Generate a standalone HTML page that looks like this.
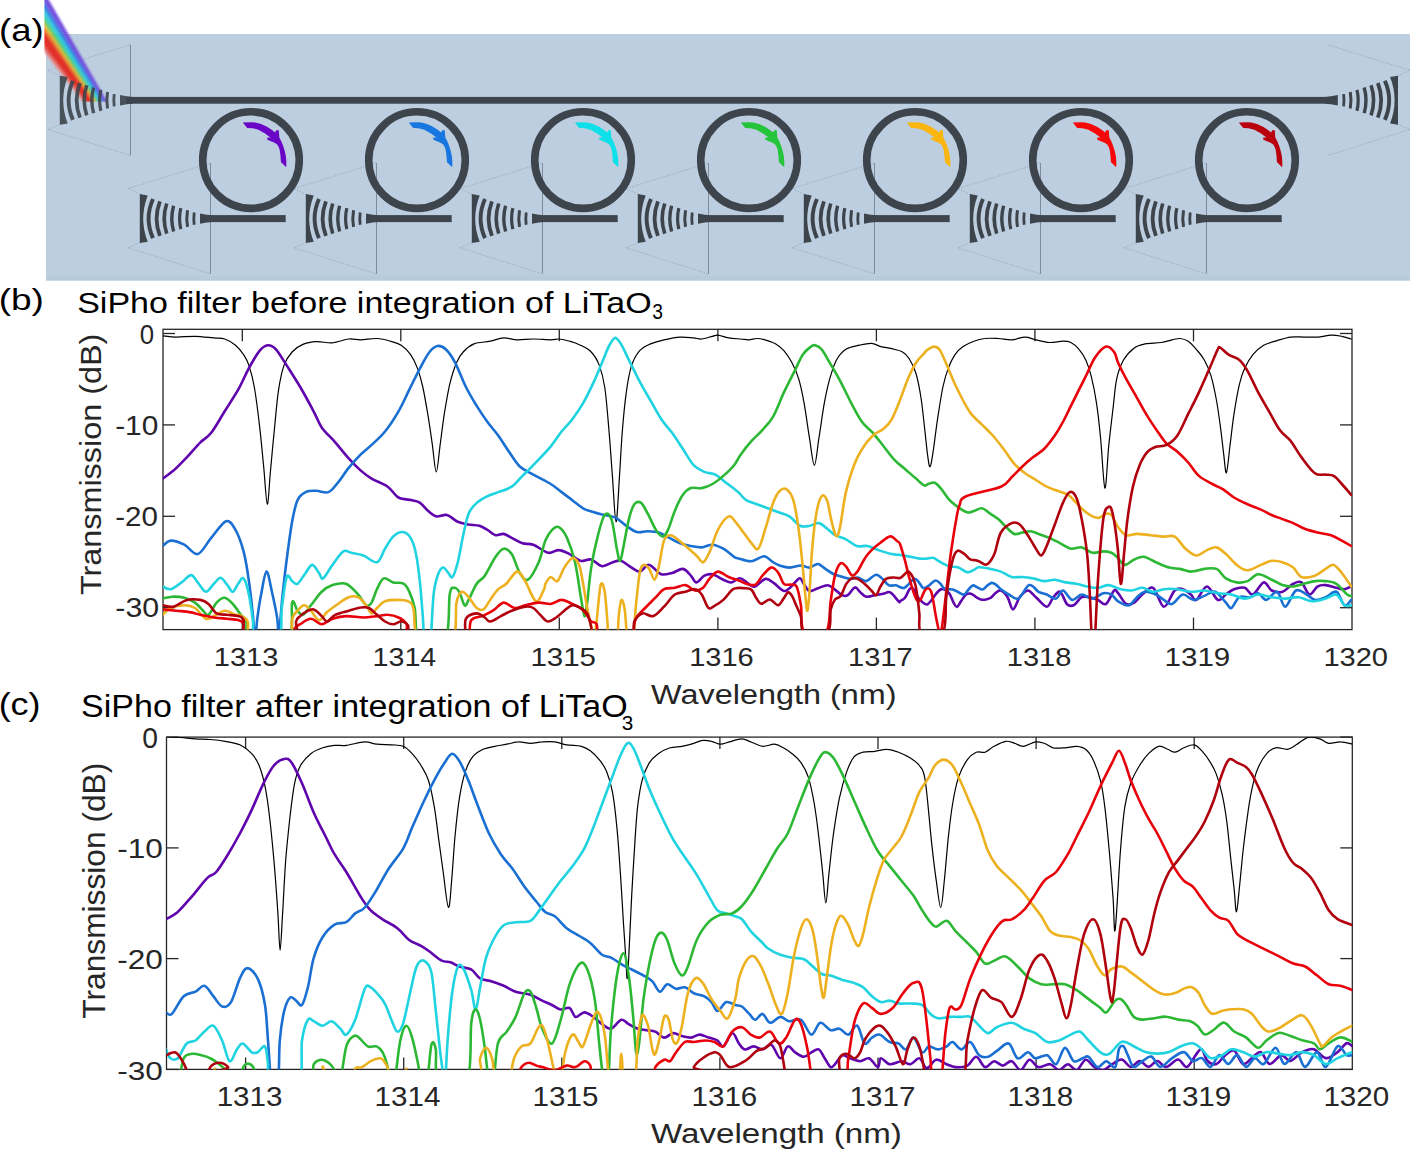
<!DOCTYPE html>
<html><head><meta charset="utf-8"><style>
html,body{margin:0;padding:0;background:#fff;}
svg{display:block;}
</style></head><body>
<svg width="1410" height="1150" viewBox="0 0 1410 1150">
<rect width="1410" height="1150" fill="#fff"/>
<rect x="46" y="34" width="1364" height="246.5" fill="#bccedf"/>
<rect x="46" y="275.5" width="1364" height="5" fill="#b8cbdd"/>
<path d="M48.2,70.3 L130.0,44.8" fill="none" stroke="#8898a8" stroke-width="0.6" stroke-dasharray="1.6,1.4"/>
<path d="M48.2,70.3 L60.2,76.1" fill="none" stroke="#8898a8" stroke-width="0.6" stroke-dasharray="1.6,1.4"/>
<path d="M48.2,129.5 L130.0,155.5" fill="none" stroke="#8898a8" stroke-width="0.6" stroke-dasharray="1.6,1.4"/>
<path d="M48.2,129.5 L60.2,124.3" fill="none" stroke="#8898a8" stroke-width="0.6" stroke-dasharray="1.6,1.4"/>
<path d="M130.5,44.8 L130.5,155.5" fill="none" stroke="#7e8c99" stroke-width="1"/>
<path d="M1409.6,70.3 L1327.8,44.8" fill="none" stroke="#8898a8" stroke-width="0.6" stroke-dasharray="1.6,1.4"/>
<path d="M1409.6,70.3 L1397.6,76.1" fill="none" stroke="#8898a8" stroke-width="0.6" stroke-dasharray="1.6,1.4"/>
<path d="M1409.6,129.5 L1327.8,155.5" fill="none" stroke="#8898a8" stroke-width="0.6" stroke-dasharray="1.6,1.4"/>
<path d="M1409.6,129.5 L1397.6,124.3" fill="none" stroke="#8898a8" stroke-width="0.6" stroke-dasharray="1.6,1.4"/>
<path d="M128.2,188.6 L210.0,163.1" fill="none" stroke="#8898a8" stroke-width="0.6" stroke-dasharray="1.6,1.4"/>
<path d="M128.2,188.6 L140.2,194.4" fill="none" stroke="#8898a8" stroke-width="0.6" stroke-dasharray="1.6,1.4"/>
<path d="M128.2,247.8 L210.0,273.8" fill="none" stroke="#8898a8" stroke-width="0.6" stroke-dasharray="1.6,1.4"/>
<path d="M128.2,247.8 L140.2,242.6" fill="none" stroke="#8898a8" stroke-width="0.6" stroke-dasharray="1.6,1.4"/>
<path d="M210.5,163.1 L210.5,273.8" fill="none" stroke="#7e8c99" stroke-width="1"/>
<path d="M294.2,188.6 L376.0,163.1" fill="none" stroke="#8898a8" stroke-width="0.6" stroke-dasharray="1.6,1.4"/>
<path d="M294.2,188.6 L306.2,194.4" fill="none" stroke="#8898a8" stroke-width="0.6" stroke-dasharray="1.6,1.4"/>
<path d="M294.2,247.8 L376.0,273.8" fill="none" stroke="#8898a8" stroke-width="0.6" stroke-dasharray="1.6,1.4"/>
<path d="M294.2,247.8 L306.2,242.6" fill="none" stroke="#8898a8" stroke-width="0.6" stroke-dasharray="1.6,1.4"/>
<path d="M376.5,163.1 L376.5,273.8" fill="none" stroke="#7e8c99" stroke-width="1"/>
<path d="M460.2,188.6 L542.0,163.1" fill="none" stroke="#8898a8" stroke-width="0.6" stroke-dasharray="1.6,1.4"/>
<path d="M460.2,188.6 L472.2,194.4" fill="none" stroke="#8898a8" stroke-width="0.6" stroke-dasharray="1.6,1.4"/>
<path d="M460.2,247.8 L542.0,273.8" fill="none" stroke="#8898a8" stroke-width="0.6" stroke-dasharray="1.6,1.4"/>
<path d="M460.2,247.8 L472.2,242.6" fill="none" stroke="#8898a8" stroke-width="0.6" stroke-dasharray="1.6,1.4"/>
<path d="M542.5,163.1 L542.5,273.8" fill="none" stroke="#7e8c99" stroke-width="1"/>
<path d="M626.2,188.6 L708.0,163.1" fill="none" stroke="#8898a8" stroke-width="0.6" stroke-dasharray="1.6,1.4"/>
<path d="M626.2,188.6 L638.2,194.4" fill="none" stroke="#8898a8" stroke-width="0.6" stroke-dasharray="1.6,1.4"/>
<path d="M626.2,247.8 L708.0,273.8" fill="none" stroke="#8898a8" stroke-width="0.6" stroke-dasharray="1.6,1.4"/>
<path d="M626.2,247.8 L638.2,242.6" fill="none" stroke="#8898a8" stroke-width="0.6" stroke-dasharray="1.6,1.4"/>
<path d="M708.5,163.1 L708.5,273.8" fill="none" stroke="#7e8c99" stroke-width="1"/>
<path d="M792.2,188.6 L874.0,163.1" fill="none" stroke="#8898a8" stroke-width="0.6" stroke-dasharray="1.6,1.4"/>
<path d="M792.2,188.6 L804.2,194.4" fill="none" stroke="#8898a8" stroke-width="0.6" stroke-dasharray="1.6,1.4"/>
<path d="M792.2,247.8 L874.0,273.8" fill="none" stroke="#8898a8" stroke-width="0.6" stroke-dasharray="1.6,1.4"/>
<path d="M792.2,247.8 L804.2,242.6" fill="none" stroke="#8898a8" stroke-width="0.6" stroke-dasharray="1.6,1.4"/>
<path d="M874.5,163.1 L874.5,273.8" fill="none" stroke="#7e8c99" stroke-width="1"/>
<path d="M958.2,188.6 L1040.0,163.1" fill="none" stroke="#8898a8" stroke-width="0.6" stroke-dasharray="1.6,1.4"/>
<path d="M958.2,188.6 L970.2,194.4" fill="none" stroke="#8898a8" stroke-width="0.6" stroke-dasharray="1.6,1.4"/>
<path d="M958.2,247.8 L1040.0,273.8" fill="none" stroke="#8898a8" stroke-width="0.6" stroke-dasharray="1.6,1.4"/>
<path d="M958.2,247.8 L970.2,242.6" fill="none" stroke="#8898a8" stroke-width="0.6" stroke-dasharray="1.6,1.4"/>
<path d="M1040.5,163.1 L1040.5,273.8" fill="none" stroke="#7e8c99" stroke-width="1"/>
<path d="M1124.2,188.6 L1206.0,163.1" fill="none" stroke="#8898a8" stroke-width="0.6" stroke-dasharray="1.6,1.4"/>
<path d="M1124.2,188.6 L1136.2,194.4" fill="none" stroke="#8898a8" stroke-width="0.6" stroke-dasharray="1.6,1.4"/>
<path d="M1124.2,247.8 L1206.0,273.8" fill="none" stroke="#8898a8" stroke-width="0.6" stroke-dasharray="1.6,1.4"/>
<path d="M1124.2,247.8 L1136.2,242.6" fill="none" stroke="#8898a8" stroke-width="0.6" stroke-dasharray="1.6,1.4"/>
<path d="M1206.5,163.1 L1206.5,273.8" fill="none" stroke="#7e8c99" stroke-width="1"/>
<defs><clipPath id="beamclip"><rect x="44.4" y="0" width="80" height="101.9"/></clipPath><filter id="bblur" x="-20%" y="-20%" width="140%" height="140%"><feGaussianBlur stdDeviation="0.9"/></filter></defs>
<g clip-path="url(#beamclip)"><g filter="url(#bblur)" opacity="0.97"><polygon points="0.19,-5.00 3.65,-5.00 84.75,101.90 82.90,101.90" fill="#eb8a85"/><polygon points="3.65,-5.00 7.11,-5.00 86.59,101.90 84.75,101.90" fill="#e5504a"/><polygon points="7.11,-5.00 18.78,-5.00 92.81,101.90 86.59,101.90" fill="#e42a22"/><polygon points="18.78,-5.00 22.67,-5.00 94.88,101.90 92.81,101.90" fill="#ef6a1f"/><polygon points="22.67,-5.00 25.70,-5.00 96.50,101.90 94.88,101.90" fill="#d8bd30"/><polygon points="25.70,-5.00 29.16,-5.00 98.34,101.90 96.50,101.90" fill="#5cc64c"/><polygon points="29.16,-5.00 32.19,-5.00 99.95,101.90 98.34,101.90" fill="#2ccfae"/><polygon points="32.19,-5.00 35.65,-5.00 101.80,101.90 99.95,101.90" fill="#27c4e2"/><polygon points="35.65,-5.00 39.97,-5.00 104.10,101.90 101.80,101.90" fill="#2f78e2"/><polygon points="39.97,-5.00 46.02,-5.00 107.33,101.90 104.10,101.90" fill="#7048de"/></g></g>
<rect x="126" y="96.9" width="1206" height="6.8" fill="#3d444c"/>
<g opacity="0.9"><path d="M59.8,75.8 L67.7,77.1 Q58.7,100.3 67.7,123.5 L59.8,124.8 Z" fill="#3d444c"/>
<path d="M72.96,80.75 Q64.24,100.30 72.96,119.85" fill="none" stroke="#3d444c" stroke-width="3.9"/>
<path d="M79.96,83.03 Q73.24,100.30 79.96,117.57" fill="none" stroke="#3d444c" stroke-width="3.8"/>
<path d="M86.74,85.24 Q81.66,100.30 86.74,115.36" fill="none" stroke="#3d444c" stroke-width="3.6"/>
<path d="M93.62,87.48 Q89.98,100.30 93.62,113.12" fill="none" stroke="#3d444c" stroke-width="3.4"/>
<path d="M100.81,89.82 Q98.39,100.30 100.81,110.78" fill="none" stroke="#3d444c" stroke-width="3.2"/>
<path d="M107.55,92.01 Q106.05,100.30 107.55,108.59" fill="none" stroke="#3d444c" stroke-width="3.0"/>
<path d="M114.21,94.18 Q113.39,100.30 114.21,106.42" fill="none" stroke="#3d444c" stroke-width="2.8"/>
<path d="M120.0,95.1 Q127.0,96.7 133.0,96.9 L133.0,103.7 Q127.0,103.9 120.0,105.5 Z" fill="#3d444c"/></g>
<path d="M1398.0,75.8 L1390.1,77.1 Q1399.1,100.3 1390.1,123.5 L1398.0,124.8 Z" fill="#3d444c"/>
<path d="M1384.84,80.75 Q1393.56,100.30 1384.84,119.85" fill="none" stroke="#3d444c" stroke-width="3.9"/>
<path d="M1377.84,83.03 Q1384.56,100.30 1377.84,117.57" fill="none" stroke="#3d444c" stroke-width="3.8"/>
<path d="M1371.06,85.24 Q1376.14,100.30 1371.06,115.36" fill="none" stroke="#3d444c" stroke-width="3.6"/>
<path d="M1364.18,87.48 Q1367.82,100.30 1364.18,113.12" fill="none" stroke="#3d444c" stroke-width="3.4"/>
<path d="M1356.99,89.82 Q1359.41,100.30 1356.99,110.78" fill="none" stroke="#3d444c" stroke-width="3.2"/>
<path d="M1350.25,92.01 Q1351.75,100.30 1350.25,108.59" fill="none" stroke="#3d444c" stroke-width="3.0"/>
<path d="M1343.59,94.18 Q1344.41,100.30 1343.59,106.42" fill="none" stroke="#3d444c" stroke-width="2.8"/>
<path d="M1337.8,95.1 Q1330.8,96.7 1324.8,96.9 L1324.8,103.7 Q1330.8,103.9 1337.8,105.5 Z" fill="#3d444c"/>
<circle cx="251" cy="160.1" r="48.3" fill="none" stroke="#3d444c" stroke-width="7.6"/>
<rect x="212.0" y="215.1" width="73.7" height="7" fill="#3d444c"/>
<path d="M139.8,194.1 L147.7,195.4 Q138.7,218.6 147.7,241.8 L139.8,243.1 Z" fill="#3d444c"/>
<path d="M152.96,199.05 Q144.24,218.60 152.96,238.15" fill="none" stroke="#3d444c" stroke-width="3.9"/>
<path d="M159.96,201.33 Q153.24,218.60 159.96,235.87" fill="none" stroke="#3d444c" stroke-width="3.8"/>
<path d="M166.74,203.54 Q161.66,218.60 166.74,233.66" fill="none" stroke="#3d444c" stroke-width="3.6"/>
<path d="M173.62,205.78 Q169.98,218.60 173.62,231.42" fill="none" stroke="#3d444c" stroke-width="3.4"/>
<path d="M180.81,208.12 Q178.39,218.60 180.81,229.08" fill="none" stroke="#3d444c" stroke-width="3.2"/>
<path d="M187.55,210.31 Q186.05,218.60 187.55,226.89" fill="none" stroke="#3d444c" stroke-width="3.0"/>
<path d="M194.21,212.48 Q193.39,218.60 194.21,224.72" fill="none" stroke="#3d444c" stroke-width="2.8"/>
<path d="M200.0,213.4 Q207.0,215.0 213.0,215.2 L213.0,222.0 Q207.0,222.2 200.0,223.8 Z" fill="#3d444c"/>
<polygon points="242.8,122.4 251.0,122.2 255.3,122.4 261.0,123.9 267.0,126.7 272.0,130.1 275.1,132.4 276.2,130.3 278.8,130.3 279.3,137.6 281.4,141.5 283.0,145.4 284.6,150.5 285.8,155.8 286.3,161.1 286.3,166.8 285.6,166.8 280.9,162.1 280.5,156.1 279.8,150.6 278.8,147.3 277.2,144.4 274.6,142.8 267.3,139.7 267.3,137.4 270.5,137.4 265.0,133.5 258.4,129.7 252.5,128.2 247.2,127.9" fill="#6a06c6"/>
<circle cx="417" cy="160.1" r="48.3" fill="none" stroke="#3d444c" stroke-width="7.6"/>
<rect x="378.0" y="215.1" width="73.7" height="7" fill="#3d444c"/>
<path d="M305.8,194.1 L313.7,195.4 Q304.7,218.6 313.7,241.8 L305.8,243.1 Z" fill="#3d444c"/>
<path d="M318.96,199.05 Q310.24,218.60 318.96,238.15" fill="none" stroke="#3d444c" stroke-width="3.9"/>
<path d="M325.96,201.33 Q319.24,218.60 325.96,235.87" fill="none" stroke="#3d444c" stroke-width="3.8"/>
<path d="M332.74,203.54 Q327.66,218.60 332.74,233.66" fill="none" stroke="#3d444c" stroke-width="3.6"/>
<path d="M339.62,205.78 Q335.98,218.60 339.62,231.42" fill="none" stroke="#3d444c" stroke-width="3.4"/>
<path d="M346.81,208.12 Q344.39,218.60 346.81,229.08" fill="none" stroke="#3d444c" stroke-width="3.2"/>
<path d="M353.55,210.31 Q352.05,218.60 353.55,226.89" fill="none" stroke="#3d444c" stroke-width="3.0"/>
<path d="M360.21,212.48 Q359.39,218.60 360.21,224.72" fill="none" stroke="#3d444c" stroke-width="2.8"/>
<path d="M366.0,213.4 Q373.0,215.0 379.0,215.2 L379.0,222.0 Q373.0,222.2 366.0,223.8 Z" fill="#3d444c"/>
<polygon points="408.8,122.4 417.0,122.2 421.3,122.4 427.0,123.9 433.0,126.7 438.0,130.1 441.1,132.4 442.2,130.3 444.8,130.3 445.3,137.6 447.4,141.5 449.0,145.4 450.6,150.5 451.8,155.8 452.3,161.1 452.3,166.8 451.6,166.8 446.9,162.1 446.5,156.1 445.8,150.6 444.8,147.3 443.2,144.4 440.6,142.8 433.3,139.7 433.3,137.4 436.5,137.4 431.0,133.5 424.4,129.7 418.5,128.2 413.2,127.9" fill="#1776e0"/>
<circle cx="583" cy="160.1" r="48.3" fill="none" stroke="#3d444c" stroke-width="7.6"/>
<rect x="544.0" y="215.1" width="73.7" height="7" fill="#3d444c"/>
<path d="M471.8,194.1 L479.7,195.4 Q470.7,218.6 479.7,241.8 L471.8,243.1 Z" fill="#3d444c"/>
<path d="M484.96,199.05 Q476.24,218.60 484.96,238.15" fill="none" stroke="#3d444c" stroke-width="3.9"/>
<path d="M491.96,201.33 Q485.24,218.60 491.96,235.87" fill="none" stroke="#3d444c" stroke-width="3.8"/>
<path d="M498.74,203.54 Q493.66,218.60 498.74,233.66" fill="none" stroke="#3d444c" stroke-width="3.6"/>
<path d="M505.62,205.78 Q501.98,218.60 505.62,231.42" fill="none" stroke="#3d444c" stroke-width="3.4"/>
<path d="M512.81,208.12 Q510.39,218.60 512.81,229.08" fill="none" stroke="#3d444c" stroke-width="3.2"/>
<path d="M519.55,210.31 Q518.05,218.60 519.55,226.89" fill="none" stroke="#3d444c" stroke-width="3.0"/>
<path d="M526.21,212.48 Q525.39,218.60 526.21,224.72" fill="none" stroke="#3d444c" stroke-width="2.8"/>
<path d="M532.0,213.4 Q539.0,215.0 545.0,215.2 L545.0,222.0 Q539.0,222.2 532.0,223.8 Z" fill="#3d444c"/>
<polygon points="574.8,122.4 583.0,122.2 587.3,122.4 593.0,123.9 599.0,126.7 604.0,130.1 607.1,132.4 608.2,130.3 610.8,130.3 611.3,137.6 613.4,141.5 615.0,145.4 616.6,150.5 617.8,155.8 618.3,161.1 618.3,166.8 617.6,166.8 612.9,162.1 612.5,156.1 611.8,150.6 610.8,147.3 609.2,144.4 606.6,142.8 599.3,139.7 599.3,137.4 602.5,137.4 597.0,133.5 590.4,129.7 584.5,128.2 579.2,127.9" fill="#0ee0ea"/>
<circle cx="749" cy="160.1" r="48.3" fill="none" stroke="#3d444c" stroke-width="7.6"/>
<rect x="710.0" y="215.1" width="73.7" height="7" fill="#3d444c"/>
<path d="M637.8,194.1 L645.7,195.4 Q636.7,218.6 645.7,241.8 L637.8,243.1 Z" fill="#3d444c"/>
<path d="M650.96,199.05 Q642.24,218.60 650.96,238.15" fill="none" stroke="#3d444c" stroke-width="3.9"/>
<path d="M657.96,201.33 Q651.24,218.60 657.96,235.87" fill="none" stroke="#3d444c" stroke-width="3.8"/>
<path d="M664.74,203.54 Q659.66,218.60 664.74,233.66" fill="none" stroke="#3d444c" stroke-width="3.6"/>
<path d="M671.62,205.78 Q667.98,218.60 671.62,231.42" fill="none" stroke="#3d444c" stroke-width="3.4"/>
<path d="M678.81,208.12 Q676.39,218.60 678.81,229.08" fill="none" stroke="#3d444c" stroke-width="3.2"/>
<path d="M685.55,210.31 Q684.05,218.60 685.55,226.89" fill="none" stroke="#3d444c" stroke-width="3.0"/>
<path d="M692.21,212.48 Q691.39,218.60 692.21,224.72" fill="none" stroke="#3d444c" stroke-width="2.8"/>
<path d="M698.0,213.4 Q705.0,215.0 711.0,215.2 L711.0,222.0 Q705.0,222.2 698.0,223.8 Z" fill="#3d444c"/>
<polygon points="740.8,122.4 749.0,122.2 753.3,122.4 759.0,123.9 765.0,126.7 770.0,130.1 773.1,132.4 774.2,130.3 776.8,130.3 777.3,137.6 779.4,141.5 781.0,145.4 782.6,150.5 783.8,155.8 784.3,161.1 784.3,166.8 783.6,166.8 778.9,162.1 778.5,156.1 777.8,150.6 776.8,147.3 775.2,144.4 772.6,142.8 765.3,139.7 765.3,137.4 768.5,137.4 763.0,133.5 756.4,129.7 750.5,128.2 745.2,127.9" fill="#26c43a"/>
<circle cx="915" cy="160.1" r="48.3" fill="none" stroke="#3d444c" stroke-width="7.6"/>
<rect x="876.0" y="215.1" width="73.7" height="7" fill="#3d444c"/>
<path d="M803.8,194.1 L811.7,195.4 Q802.7,218.6 811.7,241.8 L803.8,243.1 Z" fill="#3d444c"/>
<path d="M816.96,199.05 Q808.24,218.60 816.96,238.15" fill="none" stroke="#3d444c" stroke-width="3.9"/>
<path d="M823.96,201.33 Q817.24,218.60 823.96,235.87" fill="none" stroke="#3d444c" stroke-width="3.8"/>
<path d="M830.74,203.54 Q825.66,218.60 830.74,233.66" fill="none" stroke="#3d444c" stroke-width="3.6"/>
<path d="M837.62,205.78 Q833.98,218.60 837.62,231.42" fill="none" stroke="#3d444c" stroke-width="3.4"/>
<path d="M844.81,208.12 Q842.39,218.60 844.81,229.08" fill="none" stroke="#3d444c" stroke-width="3.2"/>
<path d="M851.55,210.31 Q850.05,218.60 851.55,226.89" fill="none" stroke="#3d444c" stroke-width="3.0"/>
<path d="M858.21,212.48 Q857.39,218.60 858.21,224.72" fill="none" stroke="#3d444c" stroke-width="2.8"/>
<path d="M864.0,213.4 Q871.0,215.0 877.0,215.2 L877.0,222.0 Q871.0,222.2 864.0,223.8 Z" fill="#3d444c"/>
<polygon points="906.8,122.4 915.0,122.2 919.3,122.4 925.0,123.9 931.0,126.7 936.0,130.1 939.1,132.4 940.2,130.3 942.8,130.3 943.3,137.6 945.4,141.5 947.0,145.4 948.6,150.5 949.8,155.8 950.3,161.1 950.3,166.8 949.6,166.8 944.9,162.1 944.5,156.1 943.8,150.6 942.8,147.3 941.2,144.4 938.6,142.8 931.3,139.7 931.3,137.4 934.5,137.4 929.0,133.5 922.4,129.7 916.5,128.2 911.2,127.9" fill="#fab50e"/>
<circle cx="1081" cy="160.1" r="48.3" fill="none" stroke="#3d444c" stroke-width="7.6"/>
<rect x="1042.0" y="215.1" width="73.7" height="7" fill="#3d444c"/>
<path d="M969.8,194.1 L977.7,195.4 Q968.7,218.6 977.7,241.8 L969.8,243.1 Z" fill="#3d444c"/>
<path d="M982.96,199.05 Q974.24,218.60 982.96,238.15" fill="none" stroke="#3d444c" stroke-width="3.9"/>
<path d="M989.96,201.33 Q983.24,218.60 989.96,235.87" fill="none" stroke="#3d444c" stroke-width="3.8"/>
<path d="M996.74,203.54 Q991.66,218.60 996.74,233.66" fill="none" stroke="#3d444c" stroke-width="3.6"/>
<path d="M1003.62,205.78 Q999.98,218.60 1003.62,231.42" fill="none" stroke="#3d444c" stroke-width="3.4"/>
<path d="M1010.81,208.12 Q1008.39,218.60 1010.81,229.08" fill="none" stroke="#3d444c" stroke-width="3.2"/>
<path d="M1017.55,210.31 Q1016.05,218.60 1017.55,226.89" fill="none" stroke="#3d444c" stroke-width="3.0"/>
<path d="M1024.21,212.48 Q1023.39,218.60 1024.21,224.72" fill="none" stroke="#3d444c" stroke-width="2.8"/>
<path d="M1030.0,213.4 Q1037.0,215.0 1043.0,215.2 L1043.0,222.0 Q1037.0,222.2 1030.0,223.8 Z" fill="#3d444c"/>
<polygon points="1072.8,122.4 1081.0,122.2 1085.3,122.4 1091.0,123.9 1097.0,126.7 1102.0,130.1 1105.1,132.4 1106.2,130.3 1108.8,130.3 1109.3,137.6 1111.4,141.5 1113.0,145.4 1114.6,150.5 1115.8,155.8 1116.3,161.1 1116.3,166.8 1115.6,166.8 1110.9,162.1 1110.5,156.1 1109.8,150.6 1108.8,147.3 1107.2,144.4 1104.6,142.8 1097.3,139.7 1097.3,137.4 1100.5,137.4 1095.0,133.5 1088.4,129.7 1082.5,128.2 1077.2,127.9" fill="#f70808"/>
<circle cx="1247" cy="160.1" r="48.3" fill="none" stroke="#3d444c" stroke-width="7.6"/>
<rect x="1208.0" y="215.1" width="73.7" height="7" fill="#3d444c"/>
<path d="M1135.8,194.1 L1143.7,195.4 Q1134.7,218.6 1143.7,241.8 L1135.8,243.1 Z" fill="#3d444c"/>
<path d="M1148.96,199.05 Q1140.24,218.60 1148.96,238.15" fill="none" stroke="#3d444c" stroke-width="3.9"/>
<path d="M1155.96,201.33 Q1149.24,218.60 1155.96,235.87" fill="none" stroke="#3d444c" stroke-width="3.8"/>
<path d="M1162.74,203.54 Q1157.66,218.60 1162.74,233.66" fill="none" stroke="#3d444c" stroke-width="3.6"/>
<path d="M1169.62,205.78 Q1165.98,218.60 1169.62,231.42" fill="none" stroke="#3d444c" stroke-width="3.4"/>
<path d="M1176.81,208.12 Q1174.39,218.60 1176.81,229.08" fill="none" stroke="#3d444c" stroke-width="3.2"/>
<path d="M1183.55,210.31 Q1182.05,218.60 1183.55,226.89" fill="none" stroke="#3d444c" stroke-width="3.0"/>
<path d="M1190.21,212.48 Q1189.39,218.60 1190.21,224.72" fill="none" stroke="#3d444c" stroke-width="2.8"/>
<path d="M1196.0,213.4 Q1203.0,215.0 1209.0,215.2 L1209.0,222.0 Q1203.0,222.2 1196.0,223.8 Z" fill="#3d444c"/>
<polygon points="1238.8,122.4 1247.0,122.2 1251.3,122.4 1257.0,123.9 1263.0,126.7 1268.0,130.1 1271.1,132.4 1272.2,130.3 1274.8,130.3 1275.3,137.6 1277.4,141.5 1279.0,145.4 1280.6,150.5 1281.8,155.8 1282.3,161.1 1282.3,166.8 1281.6,166.8 1276.9,162.1 1276.5,156.1 1275.8,150.6 1274.8,147.3 1273.2,144.4 1270.6,142.8 1263.3,139.7 1263.3,137.4 1266.5,137.4 1261.0,133.5 1254.4,129.7 1248.5,128.2 1243.2,127.9" fill="#b8000e"/>
<g font-family='"Liberation Sans", sans-serif'>
<text x="-1.00" y="41.30" font-size="31.33" textLength="44.68" lengthAdjust="spacingAndGlyphs" fill="#000">(a)</text>
<text x="-1.35" y="310.30" font-size="30.16" textLength="45.29" lengthAdjust="spacingAndGlyphs" fill="#000">(b)</text>
<text x="-1.35" y="715.30" font-size="30.63" textLength="41.87" lengthAdjust="spacingAndGlyphs" fill="#000">(c)</text>
<text x="77.20" y="312.70" font-size="29.62" textLength="574.42" lengthAdjust="spacingAndGlyphs" fill="#000">SiPho filter before integration of LiTaO</text>
<text x="652.20" y="319.40" font-size="21.50" textLength="10.69" lengthAdjust="spacingAndGlyphs" fill="#000">3</text>
<text x="81.10" y="717.30" font-size="30.43" textLength="546.60" lengthAdjust="spacingAndGlyphs" fill="#000">SiPho filter after integration of LiTaO</text>
<text x="621.70" y="729.80" font-size="20.88" textLength="11.52" lengthAdjust="spacingAndGlyphs" fill="#000">3</text>
<text transform="translate(101.11,464.40) rotate(-90)" x="0" y="0" text-anchor="middle" font-size="28.61" textLength="261.42" lengthAdjust="spacingAndGlyphs" fill="#262626">Transmission (dB)</text>
<text transform="translate(104.54,890.70) rotate(-90)" x="0" y="0" text-anchor="middle" font-size="30.57" textLength="256.02" lengthAdjust="spacingAndGlyphs" fill="#262626">Transmission (dB)</text>
<text x="651.10" y="703.90" font-size="27.49" textLength="245.43" lengthAdjust="spacingAndGlyphs" fill="#262626">Wavelength (nm)</text>
<text x="651.10" y="1143.20" font-size="27.49" textLength="250.79" lengthAdjust="spacingAndGlyphs" fill="#262626">Wavelength (nm)</text>
<text x="139.70" y="343.60" font-size="26.73" textLength="14.35" lengthAdjust="spacingAndGlyphs" fill="#262626">0</text>
<text x="115.20" y="435.00" font-size="27.62" textLength="43.09" lengthAdjust="spacingAndGlyphs" fill="#262626">-10</text>
<text x="115.20" y="526.00" font-size="27.62" textLength="42.68" lengthAdjust="spacingAndGlyphs" fill="#262626">-20</text>
<text x="115.30" y="617.20" font-size="27.74" textLength="43.81" lengthAdjust="spacingAndGlyphs" fill="#262626">-30</text>
<text x="142.30" y="748.20" font-size="28.87" textLength="15.72" lengthAdjust="spacingAndGlyphs" fill="#262626">0</text>
<text x="117.30" y="858.30" font-size="27.62" textLength="45.60" lengthAdjust="spacingAndGlyphs" fill="#262626">-10</text>
<text x="117.30" y="969.40" font-size="27.62" textLength="45.60" lengthAdjust="spacingAndGlyphs" fill="#262626">-20</text>
<text x="117.30" y="1080.00" font-size="25.18" textLength="45.60" lengthAdjust="spacingAndGlyphs" fill="#262626">-30</text>
<text x="213.80" y="666.40" font-size="26.28" textLength="64.59" lengthAdjust="spacingAndGlyphs" fill="#262626">1313</text>
<text x="216.68" y="1106.40" font-size="27.05" textLength="65.80" lengthAdjust="spacingAndGlyphs" fill="#262626">1313</text>
<text x="372.60" y="666.40" font-size="26.28" textLength="63.62" lengthAdjust="spacingAndGlyphs" fill="#262626">1314</text>
<text x="374.64" y="1106.40" font-size="27.05" textLength="65.75" lengthAdjust="spacingAndGlyphs" fill="#262626">1314</text>
<text x="530.40" y="666.40" font-size="26.28" textLength="65.65" lengthAdjust="spacingAndGlyphs" fill="#262626">1315</text>
<text x="532.60" y="1106.40" font-size="27.05" textLength="65.80" lengthAdjust="spacingAndGlyphs" fill="#262626">1315</text>
<text x="689.20" y="666.40" font-size="26.28" textLength="64.59" lengthAdjust="spacingAndGlyphs" fill="#262626">1316</text>
<text x="691.56" y="1106.40" font-size="27.05" textLength="65.75" lengthAdjust="spacingAndGlyphs" fill="#262626">1316</text>
<text x="848.00" y="666.40" font-size="26.28" textLength="64.59" lengthAdjust="spacingAndGlyphs" fill="#262626">1317</text>
<text x="849.52" y="1106.40" font-size="27.05" textLength="65.82" lengthAdjust="spacingAndGlyphs" fill="#262626">1317</text>
<text x="1006.80" y="666.40" font-size="26.28" textLength="64.61" lengthAdjust="spacingAndGlyphs" fill="#262626">1318</text>
<text x="1007.48" y="1106.40" font-size="27.05" textLength="65.75" lengthAdjust="spacingAndGlyphs" fill="#262626">1318</text>
<text x="1164.60" y="666.40" font-size="26.28" textLength="65.65" lengthAdjust="spacingAndGlyphs" fill="#262626">1319</text>
<text x="1165.44" y="1106.40" font-size="27.05" textLength="65.80" lengthAdjust="spacingAndGlyphs" fill="#262626">1319</text>
<text x="1323.40" y="666.40" font-size="26.28" textLength="64.63" lengthAdjust="spacingAndGlyphs" fill="#262626">1320</text>
<text x="1323.40" y="1106.40" font-size="27.05" textLength="65.80" lengthAdjust="spacingAndGlyphs" fill="#262626">1320</text>
</g>
<rect x="163" y="329.3" width="1189" height="300.3" fill="none" stroke="#262626" stroke-width="1.3"/>
<line x1="242.3" y1="629.6" x2="242.3" y2="617.6" stroke="#262626" stroke-width="1.3"/>
<line x1="242.3" y1="329.3" x2="242.3" y2="341.3" stroke="#262626" stroke-width="1.3"/>
<line x1="400.8" y1="629.6" x2="400.8" y2="617.6" stroke="#262626" stroke-width="1.3"/>
<line x1="400.8" y1="329.3" x2="400.8" y2="341.3" stroke="#262626" stroke-width="1.3"/>
<line x1="559.3" y1="629.6" x2="559.3" y2="617.6" stroke="#262626" stroke-width="1.3"/>
<line x1="559.3" y1="329.3" x2="559.3" y2="341.3" stroke="#262626" stroke-width="1.3"/>
<line x1="717.9" y1="629.6" x2="717.9" y2="617.6" stroke="#262626" stroke-width="1.3"/>
<line x1="717.9" y1="329.3" x2="717.9" y2="341.3" stroke="#262626" stroke-width="1.3"/>
<line x1="876.4" y1="629.6" x2="876.4" y2="617.6" stroke="#262626" stroke-width="1.3"/>
<line x1="876.4" y1="329.3" x2="876.4" y2="341.3" stroke="#262626" stroke-width="1.3"/>
<line x1="1034.9" y1="629.6" x2="1034.9" y2="617.6" stroke="#262626" stroke-width="1.3"/>
<line x1="1034.9" y1="329.3" x2="1034.9" y2="341.3" stroke="#262626" stroke-width="1.3"/>
<line x1="1193.5" y1="629.6" x2="1193.5" y2="617.6" stroke="#262626" stroke-width="1.3"/>
<line x1="1193.5" y1="329.3" x2="1193.5" y2="341.3" stroke="#262626" stroke-width="1.3"/>
<line x1="163" y1="333.5" x2="175" y2="333.5" stroke="#262626" stroke-width="1.3"/>
<line x1="1352" y1="333.5" x2="1340" y2="333.5" stroke="#262626" stroke-width="1.3"/>
<line x1="163" y1="424.9" x2="175" y2="424.9" stroke="#262626" stroke-width="1.3"/>
<line x1="1352" y1="424.9" x2="1340" y2="424.9" stroke="#262626" stroke-width="1.3"/>
<line x1="163" y1="516.3" x2="175" y2="516.3" stroke="#262626" stroke-width="1.3"/>
<line x1="1352" y1="516.3" x2="1340" y2="516.3" stroke="#262626" stroke-width="1.3"/>
<line x1="163" y1="607.7" x2="175" y2="607.7" stroke="#262626" stroke-width="1.3"/>
<line x1="1352" y1="607.7" x2="1340" y2="607.7" stroke="#262626" stroke-width="1.3"/>
<rect x="166.5" y="737.1" width="1185.8" height="332.30000000000007" fill="none" stroke="#262626" stroke-width="1.3"/>
<line x1="245.6" y1="1069.4" x2="245.6" y2="1057.4" stroke="#262626" stroke-width="1.3"/>
<line x1="245.6" y1="737.1" x2="245.6" y2="749.1" stroke="#262626" stroke-width="1.3"/>
<line x1="403.7" y1="1069.4" x2="403.7" y2="1057.4" stroke="#262626" stroke-width="1.3"/>
<line x1="403.7" y1="737.1" x2="403.7" y2="749.1" stroke="#262626" stroke-width="1.3"/>
<line x1="561.8" y1="1069.4" x2="561.8" y2="1057.4" stroke="#262626" stroke-width="1.3"/>
<line x1="561.8" y1="737.1" x2="561.8" y2="749.1" stroke="#262626" stroke-width="1.3"/>
<line x1="719.9" y1="1069.4" x2="719.9" y2="1057.4" stroke="#262626" stroke-width="1.3"/>
<line x1="719.9" y1="737.1" x2="719.9" y2="749.1" stroke="#262626" stroke-width="1.3"/>
<line x1="878.0" y1="1069.4" x2="878.0" y2="1057.4" stroke="#262626" stroke-width="1.3"/>
<line x1="878.0" y1="737.1" x2="878.0" y2="749.1" stroke="#262626" stroke-width="1.3"/>
<line x1="1036.1" y1="1069.4" x2="1036.1" y2="1057.4" stroke="#262626" stroke-width="1.3"/>
<line x1="1036.1" y1="737.1" x2="1036.1" y2="749.1" stroke="#262626" stroke-width="1.3"/>
<line x1="1194.2" y1="1069.4" x2="1194.2" y2="1057.4" stroke="#262626" stroke-width="1.3"/>
<line x1="1194.2" y1="737.1" x2="1194.2" y2="749.1" stroke="#262626" stroke-width="1.3"/>
<line x1="166.5" y1="737.1" x2="178.5" y2="737.1" stroke="#262626" stroke-width="1.3"/>
<line x1="1352.3" y1="737.1" x2="1340.3" y2="737.1" stroke="#262626" stroke-width="1.3"/>
<line x1="166.5" y1="847.9" x2="178.5" y2="847.9" stroke="#262626" stroke-width="1.3"/>
<line x1="1352.3" y1="847.9" x2="1340.3" y2="847.9" stroke="#262626" stroke-width="1.3"/>
<line x1="166.5" y1="958.6" x2="178.5" y2="958.6" stroke="#262626" stroke-width="1.3"/>
<line x1="1352.3" y1="958.6" x2="1340.3" y2="958.6" stroke="#262626" stroke-width="1.3"/>
<line x1="166.5" y1="1069.4" x2="178.5" y2="1069.4" stroke="#262626" stroke-width="1.3"/>
<line x1="1352.3" y1="1069.4" x2="1340.3" y2="1069.4" stroke="#262626" stroke-width="1.3"/>
<clipPath id="clipb"><rect x="163" y="329.3" width="1189" height="300.3"/></clipPath>
<g clip-path="url(#clipb)" fill="none" stroke-linejoin="round" stroke-linecap="round">
<path d="M162.7,335.8 C164.9,336.0 170.8,337.0 176.2,337.1 C181.6,337.2 188.8,336.2 195.0,336.3 C201.3,336.5 209.0,337.5 213.9,337.9 C218.8,338.4 221.1,337.8 224.7,339.0 C228.3,340.2 232.3,342.6 235.5,345.2 C238.6,347.8 241.3,351.3 243.6,354.6 C245.8,358.0 247.2,360.0 248.9,365.4 C250.7,370.8 252.5,376.7 254.3,387.0 C256.1,397.3 258.2,413.9 259.7,427.4 C261.3,440.9 262.5,455.1 263.8,467.9 C265.0,480.7 266.2,503.8 267.3,504.2 C268.4,504.7 269.3,483.4 270.5,470.6 C271.7,457.7 273.2,440.9 274.6,427.4 C275.9,413.9 277.0,400.0 278.6,389.7 C280.2,379.4 281.7,371.7 284.0,365.4 C286.2,359.1 288.9,355.5 292.1,352.0 C295.2,348.5 298.8,346.1 302.9,344.4 C306.9,342.7 311.4,342.0 316.3,341.7 C321.3,341.4 327.1,343.2 332.5,342.8 C337.9,342.3 344.0,339.5 348.7,339.0 C353.4,338.5 356.1,339.9 360.8,339.8 C365.5,339.7 372.0,338.3 377.0,338.5 C381.9,338.7 386.4,340.0 390.4,341.2 C394.5,342.3 397.8,343.0 401.2,345.2 C404.6,347.5 408.0,350.8 410.6,354.6 C413.3,358.5 415.4,362.7 417.4,368.1 C419.4,373.5 421.0,378.9 422.8,387.0 C424.6,395.1 426.6,407.2 428.2,416.6 C429.7,426.1 430.9,434.4 432.2,443.6 C433.6,452.8 434.9,471.9 436.3,471.9 C437.6,471.9 438.9,453.3 440.3,443.6 C441.6,433.9 442.8,423.8 444.3,413.9 C445.9,404.1 447.7,392.8 449.7,384.3 C451.8,375.8 454.2,368.1 456.5,362.7 C458.7,357.3 460.3,355.1 463.2,352.0 C466.1,348.8 469.5,345.7 474.0,343.9 C478.5,342.1 485.2,342.2 490.2,341.2 C495.1,340.2 499.1,338.2 503.6,337.9 C508.1,337.7 512.2,339.6 517.1,339.8 C522.1,340.0 527.7,339.0 533.3,339.0 C538.9,339.0 546.5,339.8 550.8,339.8 C555.0,339.8 555.7,338.8 558.9,339.0 C562.0,339.2 566.1,340.1 569.6,341.2 C573.2,342.2 576.8,343.4 580.4,345.2 C584.0,347.0 588.1,348.6 591.2,352.0 C594.4,355.3 597.1,359.6 599.3,365.4 C601.5,371.3 603.1,376.7 604.7,387.0 C606.3,397.3 607.5,413.1 608.7,427.4 C610.0,441.8 611.0,457.5 612.2,473.2 C613.5,489.0 614.8,521.3 616.0,521.8 C617.2,522.2 618.5,490.8 619.5,475.9 C620.5,461.1 621.1,446.7 622.2,432.8 C623.3,418.9 624.7,403.6 626.3,392.4 C627.8,381.2 629.4,372.4 631.6,365.4 C633.9,358.5 636.6,354.2 639.7,350.6 C642.9,347.0 646.5,345.7 650.5,343.9 C654.6,342.1 659.0,340.9 664.0,339.8 C668.9,338.7 675.2,337.4 680.2,337.1 C685.1,336.8 690.0,337.6 693.6,337.9 C697.2,338.3 698.6,339.3 701.7,339.0 C704.9,338.7 709.8,336.9 712.5,336.3 C715.2,335.7 715.2,335.0 717.9,335.2 C720.6,335.5 724.9,337.3 728.7,337.9 C732.5,338.6 737.4,338.7 740.8,339.0 C744.1,339.3 746.2,339.9 748.9,339.8 C751.6,339.7 754.3,338.5 757.0,338.5 C759.6,338.5 761.9,338.9 765.0,339.8 C768.2,340.7 772.7,342.1 775.8,343.9 C779.0,345.7 781.2,347.5 783.9,350.6 C786.6,353.8 789.5,358.0 792.0,362.7 C794.5,367.5 796.7,372.2 798.7,378.9 C800.8,385.6 802.3,393.3 804.1,403.2 C805.9,413.1 807.8,427.9 809.5,438.2 C811.2,448.5 812.8,465.2 814.4,465.2 C815.9,465.2 817.3,448.5 818.9,438.2 C820.6,427.9 822.5,413.1 824.3,403.2 C826.1,393.3 827.7,386.1 829.7,378.9 C831.8,371.7 833.8,365.0 836.5,360.0 C839.2,355.1 842.1,351.7 845.9,349.3 C849.7,346.8 855.1,346.2 859.4,345.2 C863.6,344.2 867.9,343.1 871.5,343.3 C875.1,343.6 877.6,345.7 880.9,346.6 C884.3,347.5 888.1,347.8 891.7,348.7 C895.3,349.6 899.6,350.3 902.5,352.0 C905.4,353.6 907.0,355.1 909.2,358.7 C911.5,362.3 914.0,366.6 916.0,373.5 C918.0,380.5 919.4,387.0 921.4,400.5 C923.3,413.9 926.1,443.4 927.5,454.4 C929.0,465.4 929.3,467.4 930.2,466.5 C931.2,465.6 932.3,456.9 933.5,449.0 C934.7,441.1 935.9,429.7 937.5,419.3 C939.1,409.0 941.1,395.5 942.9,387.0 C944.7,378.5 946.3,373.5 948.3,368.1 C950.3,362.7 952.6,358.2 955.0,354.6 C957.5,351.1 960.0,348.8 963.1,346.6 C966.3,344.3 970.3,342.5 973.9,341.2 C977.5,339.8 980.6,338.9 984.7,338.5 C988.7,338.0 993.7,338.3 998.2,338.5 C1002.7,338.7 1007.2,340.0 1011.6,339.8 C1016.1,339.6 1021.1,337.1 1025.1,337.1 C1029.2,337.1 1031.9,338.9 1035.9,339.8 C1039.9,340.7 1044.9,342.3 1049.4,342.5 C1053.9,342.7 1059.3,341.2 1062.9,341.2 C1066.5,341.2 1068.2,341.2 1070.9,342.5 C1073.6,343.9 1076.6,346.3 1079.0,349.3 C1081.5,352.2 1083.7,355.5 1085.8,360.0 C1087.8,364.5 1089.4,369.0 1091.2,376.2 C1093.0,383.4 1095.0,392.8 1096.5,403.2 C1098.1,413.5 1099.2,424.1 1100.6,438.2 C1102.0,452.4 1103.6,486.7 1104.9,488.1 C1106.3,489.4 1107.4,459.1 1108.7,446.3 C1110.0,433.5 1111.4,422.5 1112.7,411.3 C1114.1,400.0 1114.9,387.4 1116.7,378.9 C1118.5,370.4 1120.6,365.2 1123.5,360.0 C1126.4,354.9 1130.7,350.6 1134.3,347.9 C1137.9,345.2 1140.5,344.8 1145.0,343.9 C1149.5,343.0 1156.7,343.2 1161.2,342.5 C1165.7,341.8 1168.8,340.5 1172.0,339.8 C1175.1,339.2 1177.4,338.3 1180.1,338.5 C1182.8,338.7 1185.5,339.4 1188.2,341.2 C1190.9,343.0 1193.6,346.1 1196.3,349.3 C1198.9,352.4 1201.9,355.5 1204.3,360.0 C1206.8,364.5 1209.1,369.5 1211.1,376.2 C1213.1,383.0 1214.9,391.9 1216.5,400.5 C1218.0,409.0 1219.3,418.4 1220.5,427.4 C1221.7,436.4 1222.8,446.8 1223.7,454.4 C1224.7,461.9 1225.4,474.1 1226.4,472.7 C1227.5,471.4 1228.7,456.1 1229.9,446.3 C1231.2,436.5 1232.4,424.3 1234.0,413.9 C1235.6,403.6 1237.6,391.9 1239.4,384.3 C1241.2,376.7 1242.5,373.1 1244.8,368.1 C1247.0,363.2 1249.7,358.5 1252.9,354.6 C1256.0,350.8 1259.6,347.6 1263.6,345.2 C1267.7,342.9 1272.6,342.0 1277.1,340.6 C1281.6,339.3 1286.1,337.7 1290.6,337.1 C1295.1,336.5 1299.6,337.1 1304.1,337.1 C1308.6,337.1 1313.1,337.4 1317.5,337.1 C1322.0,336.8 1327.0,335.4 1331.0,335.2 C1335.1,335.1 1338.4,335.7 1341.8,336.3 C1345.2,336.9 1349.7,338.6 1351.2,339.0" stroke="#000000" stroke-width="1.2"/>
<path d="M162.7,478.6 C164.5,477.3 169.4,474.1 173.5,470.6 C177.5,467.0 182.5,461.8 187.0,457.1 C191.4,452.4 196.4,446.3 200.4,442.3 C204.5,438.2 207.2,438.0 211.2,432.8 C215.3,427.7 220.2,418.4 224.7,411.3 C229.2,404.1 234.1,396.9 238.2,389.7 C242.2,382.5 245.4,374.6 248.9,368.1 C252.5,361.6 256.6,354.4 259.7,350.6 C262.9,346.8 265.1,345.4 267.8,345.2 C270.5,345.0 272.8,345.9 275.9,349.3 C279.0,352.6 282.6,359.1 286.7,365.4 C290.7,371.7 295.7,379.4 300.2,387.0 C304.7,394.6 310.0,404.5 313.6,411.3 C317.2,418.0 318.1,422.3 321.7,427.4 C325.3,432.6 330.7,437.1 335.2,442.3 C339.7,447.4 344.4,453.7 348.7,458.4 C352.9,463.1 357.0,467.2 360.8,470.6 C364.6,473.9 367.1,475.9 371.6,478.6 C376.1,481.3 383.2,483.6 387.7,486.7 C392.2,489.9 394.5,495.3 398.5,497.5 C402.6,499.8 408.4,499.3 412.0,500.2 C415.6,501.1 417.4,501.1 420.1,502.9 C422.8,504.7 425.5,508.7 428.2,511.0 C430.9,513.2 433.1,515.7 436.3,516.4 C439.4,517.0 443.4,514.1 447.0,515.0 C450.6,515.9 454.2,520.2 457.8,521.8 C461.4,523.3 465.0,523.8 468.6,524.5 C472.2,525.1 476.2,524.9 479.4,525.8 C482.5,526.7 484.8,528.3 487.5,529.9 C490.2,531.4 492.9,534.6 495.6,535.2 C498.2,535.9 500.9,533.4 503.6,533.9 C506.3,534.3 508.6,536.4 511.7,537.9 C514.9,539.5 518.9,542.2 522.5,543.3 C526.1,544.5 529.0,543.1 533.3,544.7 C537.6,546.2 543.8,551.9 548.1,552.8 C552.3,553.7 555.3,549.8 558.9,550.1 C562.5,550.3 566.1,552.3 569.6,554.1 C573.2,555.9 576.8,560.0 580.4,560.8 C584.0,561.7 587.6,558.6 591.2,559.5 C594.8,560.4 598.4,565.8 602.0,566.2 C605.6,566.7 609.6,563.1 612.8,562.2 C615.9,561.3 617.7,560.0 620.9,560.8 C624.0,561.7 628.5,565.8 631.6,567.6 C634.8,569.4 637.0,572.1 639.7,571.6 C642.4,571.2 645.6,565.6 647.8,564.9 C650.1,564.2 651.0,566.0 653.2,567.6 C655.5,569.2 658.1,573.4 661.3,574.3 C664.4,575.2 668.5,573.9 672.1,573.0 C675.7,572.1 679.7,568.5 682.9,568.9 C686.0,569.4 688.7,573.4 690.9,575.7 C693.2,577.9 694.1,582.4 696.3,582.4 C698.6,582.4 701.7,577.0 704.4,575.7 C707.1,574.3 709.4,573.7 712.5,574.3 C715.7,575.0 720.1,578.4 723.3,579.7 C726.4,581.1 728.6,582.7 731.4,582.4 C734.1,582.2 737.3,578.2 739.9,578.2 C742.5,578.2 744.7,581.1 747.0,582.5 C749.4,583.9 751.0,587.3 754.1,586.7 C757.2,586.1 762.2,579.5 765.5,578.9 C768.8,578.3 770.9,581.2 774.0,583.2 C777.0,585.2 781.1,590.4 783.9,591.0 C786.7,591.6 788.4,588.9 791.0,586.7 C793.6,584.6 797.4,578.7 799.5,578.2 C801.6,577.8 802.1,581.8 803.8,583.9 C805.4,586.0 807.1,590.3 809.4,591.0 C811.8,591.7 814.9,589.1 817.9,588.2 C821.0,587.2 825.0,585.1 827.9,585.3 C830.7,585.6 832.6,587.9 835.0,589.6 C837.3,591.2 839.9,594.3 842.1,595.2 C844.2,596.2 845.6,596.5 847.7,595.2 C849.9,593.9 852.7,587.9 854.8,587.4 C857.0,587.0 858.6,590.9 860.5,592.4 C862.4,593.9 863.8,596.2 866.2,596.7 C868.5,597.1 871.8,595.7 874.7,595.2 C877.5,594.8 880.6,594.3 883.2,593.8 C885.8,593.4 887.7,591.1 890.3,592.4 C892.9,593.7 897.2,600.2 898.8,601.6 C900.4,603.1 899.0,601.7 900.0,601.1 C901.0,600.5 903.3,599.9 905.0,597.8 C906.6,595.7 908.4,590.1 909.9,588.7 C911.4,587.3 912.7,588.0 914.0,589.5 C915.4,591.1 916.7,595.6 918.2,597.8 C919.7,600.0 921.6,601.7 923.1,602.8 C924.6,603.9 925.9,604.8 927.3,604.4 C928.6,604.0 930.0,601.9 931.4,600.3 C932.8,598.6 934.0,596.3 935.5,594.5 C937.0,592.7 938.9,590.4 940.5,589.5 C942.0,588.7 943.1,588.9 944.6,589.5 C946.1,590.2 948.0,591.5 949.5,593.7 C951.1,595.9 952.4,600.6 953.7,602.8 C954.9,605.0 955.7,607.2 957.0,606.9 C958.2,606.6 959.6,603.2 961.1,601.1 C962.6,599.0 964.4,595.7 966.1,594.5 C967.7,593.3 969.4,593.3 971.0,593.7 C972.7,594.1 974.3,596.0 976.0,597.0 C977.6,597.9 979.3,599.0 980.9,599.5 C982.6,599.9 984.2,599.7 985.9,599.5 C987.5,599.2 989.2,598.9 990.8,597.8 C992.5,596.7 994.1,594.1 995.8,592.8 C997.5,591.6 998.9,589.8 1000.9,590.5 C1002.8,591.2 1005.6,594.1 1007.6,597.2 C1009.6,600.4 1011.0,609.4 1013.0,609.4 C1015.0,609.4 1017.3,600.4 1019.7,597.2 C1022.2,594.1 1025.1,590.5 1027.8,590.5 C1030.5,590.5 1032.8,594.5 1035.9,597.2 C1039.0,599.9 1043.8,606.7 1046.7,606.7 C1049.6,606.7 1051.2,599.7 1053.4,597.2 C1055.7,594.8 1057.9,590.7 1060.2,591.8 C1062.4,593.0 1064.7,601.7 1066.9,604.0 C1069.1,606.2 1071.2,606.4 1073.6,605.3 C1076.1,604.2 1079.0,598.6 1081.7,597.2 C1084.4,595.9 1087.1,596.8 1089.8,597.2 C1092.5,597.7 1095.2,598.8 1097.9,599.9 C1100.6,601.1 1103.3,605.5 1106.0,604.0 C1108.7,602.4 1112.1,592.3 1114.1,590.5 C1116.1,588.7 1116.1,590.9 1118.1,593.2 C1120.1,595.4 1123.5,602.4 1126.2,604.0 C1128.9,605.5 1131.6,604.2 1134.3,602.6 C1137.0,601.1 1139.2,597.0 1142.3,594.5 C1145.5,592.1 1149.5,585.8 1153.1,587.8 C1156.7,589.8 1160.3,606.2 1163.9,606.7 C1167.5,607.1 1171.5,593.4 1174.7,590.5 C1177.8,587.6 1180.1,588.5 1182.8,589.2 C1185.5,589.8 1188.6,592.7 1190.9,594.5 C1193.1,596.3 1193.6,601.3 1196.3,599.9 C1198.9,598.6 1203.4,586.5 1207.0,586.5 C1210.6,586.5 1214.7,598.6 1217.8,599.9 C1221.0,601.3 1223.2,596.3 1225.9,594.5 C1228.6,592.7 1230.8,590.3 1234.0,589.2 C1237.1,588.0 1241.6,586.9 1244.8,587.8 C1247.9,588.7 1249.7,595.4 1252.9,594.5 C1256.0,593.6 1260.5,583.1 1263.6,582.4 C1266.8,581.7 1268.6,588.9 1271.7,590.5 C1274.9,592.1 1278.9,593.0 1282.5,591.8 C1286.1,590.7 1290.1,585.3 1293.3,583.8 C1296.4,582.2 1298.7,580.6 1301.4,582.4 C1304.1,584.2 1306.8,593.9 1309.5,594.5 C1312.2,595.2 1314.9,588.0 1317.5,586.5 C1320.2,584.9 1322.5,584.9 1325.6,585.1 C1328.8,585.3 1333.3,587.1 1336.4,587.8 C1339.6,588.5 1342.0,589.4 1344.5,589.2 C1347.0,588.9 1350.1,586.9 1351.2,586.5" stroke="#6005ad" stroke-width="2.6"/>
<path d="M162.7,546.0 C164.0,545.1 167.2,540.9 170.8,540.6 C174.4,540.4 179.8,542.4 184.3,544.7 C188.8,546.9 193.2,555.2 197.7,554.1 C202.2,553.0 206.5,543.4 211.2,537.9 C215.9,532.5 222.0,522.6 226.0,521.2 C230.1,519.9 232.6,524.8 235.5,529.9 C238.4,534.9 241.3,542.9 243.6,551.4 C245.8,560.0 247.4,570.3 248.9,581.1 C250.5,591.8 252.0,606.2 253.0,616.1 C254.0,626.0 254.1,640.4 254.9,640.4 C255.6,640.4 256.5,623.7 257.6,616.1 C258.6,608.5 259.6,602.0 261.1,594.5 C262.6,587.1 264.7,572.1 266.5,571.6 C268.3,571.2 270.1,584.0 271.9,591.8 C273.7,599.7 276.1,610.7 277.3,618.8 C278.4,626.9 278.1,640.4 278.6,640.4 C279.1,640.4 279.8,626.4 280.5,618.8 C281.2,611.2 281.6,604.4 282.6,594.5 C283.7,584.7 285.1,571.6 286.7,559.5 C288.3,547.4 290.3,531.6 292.1,521.8 C293.9,511.9 295.2,505.1 297.5,500.2 C299.7,495.3 302.4,493.7 305.6,492.1 C308.7,490.5 312.5,490.8 316.3,490.8 C320.2,490.8 324.9,493.5 328.5,492.1 C332.1,490.8 334.5,486.7 337.9,482.7 C341.3,478.6 344.9,472.6 348.7,467.9 C352.5,463.1 357.0,458.2 360.8,454.4 C364.6,450.6 367.5,448.8 371.6,444.9 C375.6,441.1 380.5,437.1 385.0,431.5 C389.5,425.9 394.5,418.2 398.5,411.3 C402.6,404.3 405.7,396.9 409.3,389.7 C412.9,382.5 416.7,374.4 420.1,368.1 C423.5,361.8 426.6,355.6 429.5,352.0 C432.4,348.3 434.9,346.5 437.6,346.0 C440.3,345.6 442.8,346.5 445.7,349.3 C448.6,352.0 451.8,356.4 455.1,362.7 C458.5,369.0 462.3,379.8 465.9,387.0 C469.5,394.2 473.1,400.0 476.7,405.9 C480.3,411.7 483.9,417.1 487.5,422.0 C491.1,427.0 494.7,430.6 498.2,435.5 C501.8,440.5 505.4,446.5 509.0,451.7 C512.6,456.9 515.8,462.7 519.8,466.5 C523.9,470.3 528.1,471.7 533.3,474.6 C538.5,477.5 546.1,481.1 550.8,484.0 C555.5,486.9 558.0,489.4 561.6,492.1 C565.2,494.8 568.8,497.5 572.3,500.2 C575.9,502.9 579.5,506.3 583.1,508.3 C586.7,510.3 590.3,511.2 593.9,512.3 C597.5,513.5 601.1,514.1 604.7,515.0 C608.3,515.9 611.9,515.9 615.5,517.7 C619.1,519.5 622.7,523.4 626.3,525.8 C629.8,528.2 633.4,531.1 637.0,532.0 C640.6,532.9 644.2,531.1 647.8,531.2 C651.4,531.3 655.0,531.4 658.6,532.5 C662.2,533.7 665.8,536.1 669.4,537.9 C673.0,539.7 676.6,542.0 680.2,543.3 C683.8,544.7 687.3,545.4 690.9,546.0 C694.5,546.7 698.1,547.6 701.7,547.4 C705.3,547.1 708.9,544.5 712.5,544.7 C716.1,544.9 719.7,546.7 723.3,548.7 C726.9,550.7 731.5,555.2 734.1,556.8 C736.6,558.4 735.6,557.6 738.5,558.4 C741.4,559.1 747.0,561.6 751.3,561.2 C755.5,560.9 760.5,556.1 764.0,556.2 C767.6,556.4 770.0,560.4 772.6,561.9 C775.2,563.5 776.8,564.5 779.6,565.5 C782.5,566.4 786.0,567.6 789.6,567.6 C793.1,567.6 797.6,565.5 800.9,565.5 C804.2,565.5 806.6,567.8 809.4,567.6 C812.3,567.4 815.1,563.7 817.9,564.0 C820.8,564.4 823.9,568.1 826.5,569.7 C829.1,571.4 830.9,572.8 833.5,574.0 C836.1,575.2 839.2,576.0 842.1,576.8 C844.9,577.6 848.0,578.8 850.6,578.9 C853.2,579.1 855.1,577.2 857.7,577.5 C860.3,577.9 863.1,581.5 866.2,581.1 C869.2,580.6 873.3,574.9 876.1,574.7 C878.9,574.4 881.1,577.9 883.2,579.6 C885.3,581.4 886.7,584.4 888.9,585.3 C891.0,586.3 894.1,585.0 896.0,585.3 C897.8,585.6 898.6,586.6 900.0,587.1 C901.4,587.5 902.8,588.3 904.1,587.9 C905.5,587.5 906.6,586.1 908.3,584.6 C909.9,583.1 912.4,579.4 914.0,578.8 C915.7,578.3 916.7,579.8 918.2,581.3 C919.7,582.8 921.5,587.1 923.1,587.9 C924.8,588.7 926.0,587.5 928.1,586.2 C930.1,585.0 933.4,580.9 935.5,580.5 C937.6,580.0 938.9,582.4 940.5,583.8 C942.0,585.1 942.5,587.8 944.6,588.7 C946.7,589.7 950.4,588.9 952.8,589.5 C955.3,590.2 957.5,592.0 959.5,592.8 C961.4,593.7 962.9,595.1 964.4,594.5 C965.9,593.9 967.2,591.1 968.5,589.5 C969.9,588.0 971.2,585.8 972.7,585.4 C974.2,585.1 976.0,586.8 977.6,587.5 C979.3,588.2 980.9,589.9 982.6,589.5 C984.2,589.2 986.0,586.5 987.5,585.4 C989.0,584.3 990.3,583.1 991.7,582.9 C993.0,582.8 994.3,583.6 995.8,584.6 C997.3,585.6 998.7,587.5 1000.9,589.2 C1003.1,590.8 1006.0,593.0 1008.9,594.5 C1011.9,596.1 1015.0,600.2 1018.4,598.6 C1021.8,597.0 1025.8,586.2 1029.2,585.1 C1032.5,584.0 1035.7,590.3 1038.6,591.8 C1041.5,593.4 1043.8,593.4 1046.7,594.5 C1049.6,595.7 1053.4,599.3 1056.1,598.6 C1058.8,597.9 1060.2,590.3 1062.9,590.5 C1065.6,590.7 1069.1,599.3 1072.3,599.9 C1075.4,600.6 1078.4,594.8 1081.7,594.5 C1085.1,594.3 1088.9,598.8 1092.5,598.6 C1096.1,598.4 1100.1,593.9 1103.3,593.2 C1106.4,592.5 1108.9,593.2 1111.4,594.5 C1113.8,595.9 1115.2,599.5 1118.1,601.3 C1121.0,603.1 1125.7,606.0 1128.9,605.3 C1132.0,604.6 1134.3,599.5 1137.0,597.2 C1139.6,595.0 1141.9,592.3 1145.0,591.8 C1148.2,591.4 1152.7,593.2 1155.8,594.5 C1159.0,595.9 1161.2,598.4 1163.9,599.9 C1166.6,601.5 1168.8,604.9 1172.0,604.0 C1175.1,603.1 1179.2,595.2 1182.8,594.5 C1186.4,593.9 1190.0,599.7 1193.6,599.9 C1197.2,600.2 1200.7,597.2 1204.3,595.9 C1207.9,594.5 1211.5,590.7 1215.1,591.8 C1218.7,593.0 1223.2,599.9 1225.9,602.6 C1228.6,605.3 1229.0,608.9 1231.3,608.0 C1233.5,607.1 1236.2,599.0 1239.4,597.2 C1242.5,595.4 1247.0,597.9 1250.2,597.2 C1253.3,596.6 1255.6,592.7 1258.2,593.2 C1260.9,593.6 1263.2,600.2 1266.3,599.9 C1269.5,599.7 1274.0,590.7 1277.1,591.8 C1280.3,593.0 1282.1,606.9 1285.2,606.7 C1288.3,606.4 1292.4,592.5 1296.0,590.5 C1299.6,588.5 1303.6,593.0 1306.8,594.5 C1309.9,596.1 1311.7,599.5 1314.9,599.9 C1318.0,600.4 1322.0,598.6 1325.6,597.2 C1329.2,595.9 1333.3,590.5 1336.4,591.8 C1339.6,593.2 1342.0,604.0 1344.5,605.3 C1347.0,606.7 1350.1,600.8 1351.2,599.9" stroke="#1a6fd2" stroke-width="2.6"/>
<path d="M162.7,586.5 C164.0,586.9 167.6,589.8 170.8,589.2 C173.9,588.5 178.2,584.7 181.6,582.4 C184.9,580.1 188.3,575.1 191.0,575.1 C193.7,575.1 195.3,579.6 197.7,582.4 C200.2,585.2 203.1,591.6 205.8,591.8 C208.5,592.1 211.4,586.1 213.9,583.8 C216.4,581.4 218.4,577.6 220.6,577.8 C222.9,578.1 225.4,582.8 227.4,585.1 C229.4,587.4 231.0,592.1 232.8,591.8 C234.6,591.6 236.4,586.0 238.2,583.8 C240.0,581.5 241.8,576.6 243.6,578.4 C245.4,580.2 247.4,587.4 248.9,594.5 C250.5,601.7 252.0,613.9 253.0,621.5 C254.0,629.1 250.6,637.2 254.9,640.4 C259.1,643.5 274.1,645.8 278.6,640.4 C283.1,635.0 280.5,618.6 281.8,608.0 C283.2,597.5 285.0,581.5 286.7,577.0 C288.4,572.5 290.3,579.9 292.1,581.1 C293.9,582.2 295.2,585.1 297.5,583.8 C299.7,582.4 303.1,576.1 305.6,573.0 C308.0,569.8 310.0,564.9 312.3,564.9 C314.5,564.9 317.2,570.7 319.0,573.0 C320.8,575.2 320.8,579.7 323.1,578.4 C325.3,577.0 329.1,569.4 332.5,564.9 C335.9,560.4 340.1,553.4 343.3,551.4 C346.4,549.4 348.0,552.1 351.4,552.8 C354.7,553.4 359.2,553.9 363.5,555.5 C367.7,557.0 373.4,563.3 377.0,562.2 C380.5,561.1 382.3,553.0 385.0,548.7 C387.7,544.5 390.2,539.4 393.1,536.6 C396.0,533.8 399.6,531.8 402.6,532.0 C405.5,532.2 408.4,534.3 410.6,537.9 C412.9,541.6 414.5,546.5 416.0,554.1 C417.6,561.7 419.0,573.4 420.1,583.8 C421.2,594.1 422.0,606.7 422.8,616.1 C423.5,625.5 423.4,636.3 424.7,640.4 C425.9,644.4 428.8,648.0 430.3,640.4 C431.8,632.7 432.3,605.3 433.6,594.5 C434.8,583.8 436.0,580.2 437.6,575.7 C439.2,571.2 441.2,568.0 443.0,567.6 C444.8,567.1 446.8,571.4 448.4,573.0 C450.0,574.6 450.9,578.8 452.4,577.0 C454.0,575.2 456.0,569.2 457.8,562.2 C459.6,555.2 461.4,543.3 463.2,535.2 C465.0,527.2 466.4,519.1 468.6,513.7 C470.8,508.3 473.5,505.8 476.7,502.9 C479.8,500.0 483.9,498.0 487.5,496.2 C491.1,494.4 494.2,493.7 498.2,492.1 C502.3,490.5 507.7,489.4 511.7,486.7 C515.8,484.0 518.9,479.5 522.5,475.9 C526.1,472.3 528.6,470.1 533.3,465.2 C538.0,460.2 546.1,451.9 550.8,446.3 C555.5,440.7 558.0,436.0 561.6,431.5 C565.2,427.0 568.8,424.1 572.3,419.3 C575.9,414.6 579.5,409.5 583.1,403.2 C586.7,396.9 590.8,388.3 593.9,381.6 C597.1,374.9 599.5,368.6 602.0,362.7 C604.5,356.9 606.6,350.7 608.7,346.6 C610.9,342.4 612.9,338.4 614.9,337.9 C617.0,337.5 618.5,340.2 620.9,343.9 C623.2,347.6 625.8,353.8 628.9,360.0 C632.1,366.3 636.1,374.9 639.7,381.6 C643.3,388.3 646.9,394.2 650.5,400.5 C654.1,406.8 657.7,413.9 661.3,419.3 C664.9,424.7 668.5,427.9 672.1,432.8 C675.7,437.8 679.3,443.6 682.9,449.0 C686.5,454.4 690.0,461.3 693.6,465.2 C697.2,469.0 700.8,470.3 704.4,471.9 C708.0,473.5 711.6,472.8 715.2,474.6 C718.8,476.4 722.2,479.8 726.0,482.7 C729.8,485.6 734.7,489.2 738.1,492.1 C741.5,495.0 743.0,498.2 746.2,500.2 C749.3,502.2 753.4,502.9 757.0,504.2 C760.5,505.6 764.1,506.9 767.7,508.3 C771.3,509.6 774.9,511.0 778.5,512.3 C782.1,513.7 785.7,514.1 789.3,516.4 C792.9,518.6 796.7,524.2 800.1,525.8 C803.5,527.4 806.4,526.3 809.5,525.8 C812.7,525.4 816.0,522.7 818.9,523.1 C821.9,523.6 824.3,526.5 827.0,528.5 C829.7,530.5 832.0,533.4 835.1,535.2 C838.3,537.0 842.3,537.5 845.9,539.3 C849.5,541.1 853.1,544.9 856.7,546.0 C860.3,547.1 863.9,545.4 867.5,546.0 C871.1,546.7 874.2,548.7 878.2,550.1 C882.3,551.4 888.1,553.3 891.7,554.1 C895.4,554.9 897.5,554.5 900.0,554.9 C902.5,555.2 904.4,555.7 906.6,556.1 C908.8,556.5 911.0,556.9 913.2,557.3 C915.4,557.8 917.6,558.4 919.8,558.6 C922.0,558.8 924.2,558.7 926.4,558.6 C928.6,558.4 931.1,557.4 933.0,557.8 C935.0,558.1 936.2,559.6 938.0,560.6 C939.8,561.7 941.8,563.0 943.8,563.9 C945.7,564.9 947.2,565.9 949.5,566.4 C951.9,567.0 955.3,566.5 957.8,567.3 C960.3,568.0 962.6,570.1 964.4,571.0 C966.2,571.8 966.9,572.4 968.5,572.2 C970.2,572.0 972.7,570.6 974.3,569.7 C976.0,568.9 976.8,567.6 978.4,567.3 C980.1,566.9 982.2,567.4 984.2,567.7 C986.3,567.9 988.1,568.2 990.8,568.9 C993.6,569.6 997.4,570.3 1000.9,571.6 C1004.3,573.0 1008.1,576.1 1011.6,577.0 C1015.2,577.9 1018.8,576.8 1022.4,577.0 C1026.0,577.2 1029.6,577.7 1033.2,578.4 C1036.8,579.0 1040.4,580.8 1044.0,581.1 C1047.6,581.3 1051.2,579.5 1054.8,579.7 C1058.4,579.9 1062.0,581.7 1065.6,582.4 C1069.1,583.1 1072.7,583.1 1076.3,583.8 C1079.9,584.4 1083.5,585.8 1087.1,586.5 C1090.7,587.1 1094.3,588.0 1097.9,587.8 C1101.5,587.6 1104.9,584.9 1108.7,585.1 C1112.5,585.3 1117.0,588.3 1120.8,589.2 C1124.6,590.0 1128.0,590.7 1131.6,590.5 C1135.2,590.3 1138.8,587.6 1142.3,587.8 C1145.9,588.0 1149.5,591.6 1153.1,591.8 C1156.7,592.1 1159.9,589.6 1163.9,589.2 C1168.0,588.7 1172.9,588.7 1177.4,589.2 C1181.9,589.6 1186.4,591.6 1190.9,591.8 C1195.4,592.1 1199.8,590.3 1204.3,590.5 C1208.8,590.7 1213.3,592.5 1217.8,593.2 C1222.3,593.9 1226.8,593.6 1231.3,594.5 C1235.8,595.4 1240.3,598.6 1244.8,598.6 C1249.3,598.6 1253.8,594.8 1258.2,594.5 C1262.7,594.3 1267.2,596.6 1271.7,597.2 C1276.2,597.9 1280.7,598.6 1285.2,598.6 C1289.7,598.6 1294.2,596.8 1298.7,597.2 C1303.2,597.7 1307.7,601.1 1312.2,601.3 C1316.6,601.5 1321.6,599.7 1325.6,598.6 C1329.7,597.5 1333.3,593.4 1336.4,594.5 C1339.6,595.7 1342.0,603.5 1344.5,605.3 C1347.0,607.1 1350.1,605.3 1351.2,605.3" stroke="#1fd3e0" stroke-width="2.6"/>
<path d="M162.7,598.6 C164.3,598.3 168.5,596.8 172.1,596.7 C175.7,596.6 180.4,596.8 184.3,597.8 C188.1,598.8 191.9,600.5 195.0,602.6 C198.2,604.8 200.9,608.7 203.1,610.7 C205.4,612.7 206.3,616.1 208.5,614.8 C210.8,613.4 213.9,605.5 216.6,602.6 C219.3,599.8 222.0,597.6 224.7,597.8 C227.4,598.0 230.1,601.1 232.8,604.0 C235.5,606.8 238.6,611.8 240.9,614.8 C243.1,617.7 244.7,617.2 246.3,621.5 C247.8,625.8 243.3,637.2 250.3,640.4 C257.3,643.5 281.1,646.7 288.0,640.4 C295.0,634.1 290.5,607.6 292.1,602.6 C293.6,597.7 295.7,608.7 297.5,610.7 C299.3,612.7 300.6,615.7 302.9,614.8 C305.1,613.9 307.8,609.1 310.9,605.3 C314.1,601.5 318.1,595.2 321.7,591.8 C325.3,588.5 328.5,586.5 332.5,585.1 C336.5,583.8 341.7,582.2 346.0,583.8 C350.2,585.3 354.7,590.9 358.1,594.5 C361.5,598.1 363.9,604.0 366.2,605.3 C368.4,606.7 369.8,605.3 371.6,602.6 C373.4,599.9 374.9,593.2 377.0,589.2 C379.0,585.1 381.0,579.5 383.7,578.4 C386.4,577.2 389.8,581.5 393.1,582.4 C396.5,583.3 401.2,582.2 403.9,583.8 C406.6,585.3 407.5,587.8 409.3,591.8 C411.1,595.9 413.0,599.9 414.7,608.0 C416.4,616.1 414.2,635.0 419.3,640.4 C424.3,645.8 440.1,648.0 445.1,640.4 C450.2,632.7 448.3,603.3 449.7,594.5 C451.2,585.8 452.2,588.3 453.8,587.8 C455.3,587.4 457.4,588.9 459.2,591.8 C461.0,594.8 463.0,604.0 464.6,605.3 C466.1,606.7 466.6,603.5 468.6,599.9 C470.6,596.3 474.0,587.8 476.7,583.8 C479.4,579.7 481.6,580.2 484.8,575.7 C487.9,571.2 492.4,561.3 495.6,556.8 C498.7,552.3 500.9,549.2 503.6,548.7 C506.3,548.3 509.0,550.1 511.7,554.1 C514.4,558.2 517.1,568.7 519.8,573.0 C522.5,577.2 524.8,581.5 527.9,579.7 C531.0,577.9 535.8,568.7 538.7,562.2 C541.6,555.7 543.1,546.0 545.4,540.6 C547.6,535.2 549.9,532.1 552.1,529.9 C554.4,527.6 556.4,525.8 558.9,527.2 C561.3,528.5 564.3,532.1 567.0,537.9 C569.6,543.8 572.8,552.8 575.0,562.2 C577.3,571.6 578.9,585.6 580.4,594.5 C582.0,603.5 583.4,614.8 584.5,616.1 C585.6,617.5 586.0,610.7 587.2,602.6 C588.3,594.5 589.4,578.8 591.2,567.6 C593.0,556.4 595.7,544.0 598.0,535.2 C600.2,526.5 602.4,517.7 604.7,515.0 C606.9,512.3 609.4,513.5 611.4,519.1 C613.5,524.7 615.4,541.8 616.8,548.7 C618.3,555.7 618.9,561.3 620.1,560.8 C621.2,560.4 622.1,553.0 623.6,546.0 C625.0,539.1 627.2,526.0 628.9,519.1 C630.7,512.1 632.3,506.9 634.3,504.2 C636.4,501.5 638.8,501.3 641.1,502.9 C643.3,504.5 645.3,509.2 647.8,513.7 C650.3,518.2 653.4,526.0 655.9,529.9 C658.4,533.7 660.6,536.6 662.6,536.6 C664.7,536.6 666.0,534.1 668.0,529.9 C670.1,525.6 672.3,516.8 674.8,511.0 C677.2,505.1 680.2,498.6 682.9,494.8 C685.6,491.0 687.8,489.2 690.9,488.1 C694.1,486.9 698.1,488.7 701.7,488.1 C705.3,487.4 708.9,486.1 712.5,484.0 C716.1,482.0 719.7,479.1 723.3,475.9 C726.9,472.8 731.2,468.8 734.1,465.2 C737.0,461.6 737.9,458.4 740.8,454.4 C743.7,450.3 748.0,444.9 751.6,440.9 C755.2,436.9 758.8,434.2 762.3,430.1 C765.9,426.1 769.5,422.9 773.1,416.6 C776.7,410.4 780.3,400.0 783.9,392.4 C787.5,384.7 791.5,377.1 794.7,370.8 C797.8,364.5 800.1,358.7 802.8,354.6 C805.5,350.6 808.8,348.1 810.9,346.6 C812.9,345.0 813.1,344.8 814.9,345.2 C816.7,345.7 819.2,346.3 821.6,349.3 C824.1,352.2 826.6,357.3 829.7,362.7 C832.9,368.1 836.9,374.9 840.5,381.6 C844.1,388.3 847.7,396.4 851.3,403.2 C854.9,409.9 858.5,417.1 862.1,422.0 C865.7,427.0 869.3,428.8 872.9,432.8 C876.5,436.9 880.0,441.8 883.6,446.3 C887.2,450.8 890.8,456.0 894.4,459.8 C898.0,463.6 901.6,466.1 905.2,469.2 C908.8,472.3 912.8,475.9 916.0,478.6 C919.1,481.3 922.1,484.5 924.1,485.4 C926.1,486.3 926.3,484.5 928.1,484.0 C929.9,483.6 932.6,481.8 934.8,482.7 C937.1,483.6 939.1,486.5 941.6,489.4 C944.0,492.3 947.0,497.3 949.6,500.2 C952.3,503.1 954.8,504.9 957.7,506.9 C960.7,509.0 964.5,511.7 967.2,512.3 C969.9,513.0 971.4,511.7 973.9,511.0 C976.4,510.3 979.3,507.8 982.0,508.3 C984.7,508.7 987.4,511.9 990.1,513.7 C992.8,515.5 995.5,516.8 998.2,519.1 C1000.9,521.3 1003.6,524.7 1006.3,527.2 C1008.9,529.6 1011.6,533.0 1014.3,533.9 C1017.0,534.8 1019.7,533.0 1022.4,532.5 C1025.1,532.1 1027.8,531.0 1030.5,531.2 C1033.2,531.4 1035.5,532.8 1038.6,533.9 C1041.7,535.0 1045.8,536.4 1049.4,537.9 C1053.0,539.5 1056.6,541.5 1060.2,543.3 C1063.8,545.1 1067.3,548.0 1070.9,548.7 C1074.5,549.4 1078.1,546.7 1081.7,547.4 C1085.3,548.0 1088.9,552.1 1092.5,552.8 C1096.1,553.4 1100.1,551.4 1103.3,551.4 C1106.4,551.4 1109.1,551.9 1111.4,552.8 C1113.6,553.7 1114.5,554.8 1116.7,556.8 C1119.0,558.8 1121.9,564.4 1124.8,564.9 C1127.7,565.3 1131.1,560.8 1134.3,559.5 C1137.4,558.2 1140.1,556.4 1143.7,556.8 C1147.3,557.3 1151.6,560.4 1155.8,562.2 C1160.1,564.0 1165.3,566.5 1169.3,567.6 C1173.3,568.7 1176.5,568.3 1180.1,568.9 C1183.7,569.6 1186.8,571.6 1190.9,571.6 C1194.9,571.6 1200.1,569.4 1204.3,568.9 C1208.6,568.5 1212.9,567.4 1216.5,568.9 C1220.1,570.5 1222.5,576.1 1225.9,578.4 C1229.3,580.6 1233.1,582.0 1236.7,582.4 C1240.3,582.9 1243.9,582.4 1247.5,581.1 C1251.1,579.7 1254.2,574.6 1258.2,574.3 C1262.3,574.1 1267.7,577.9 1271.7,579.7 C1275.8,581.5 1278.9,584.0 1282.5,585.1 C1286.1,586.2 1289.7,586.7 1293.3,586.5 C1296.9,586.2 1300.5,584.7 1304.1,583.8 C1307.7,582.9 1311.3,581.5 1314.9,581.1 C1318.4,580.6 1322.0,580.6 1325.6,581.1 C1329.2,581.5 1332.8,581.5 1336.4,583.8 C1340.0,586.0 1344.7,592.5 1347.2,594.5 C1349.7,596.6 1350.6,595.7 1351.2,595.9" stroke="#2cb834" stroke-width="2.6"/>
<path d="M162.7,614.8 C164.0,613.6 167.2,609.6 170.8,608.0 C174.4,606.4 180.2,605.3 184.3,605.3 C188.3,605.3 191.4,605.8 195.0,608.0 C198.6,610.3 202.7,617.5 205.8,618.8 C209.0,620.1 210.8,617.5 213.9,616.1 C217.1,614.8 221.1,610.9 224.7,610.7 C228.3,610.5 232.8,613.9 235.5,614.8 C238.2,615.6 238.8,614.4 240.9,615.6 C242.9,616.7 245.8,617.4 247.6,621.5 C249.4,625.6 244.9,637.2 251.6,640.4 C258.4,643.5 281.3,644.0 288.0,640.4 C294.8,636.8 290.5,623.7 292.1,618.8 C293.6,613.9 295.4,613.0 297.5,610.7 C299.5,608.5 302.0,605.3 304.2,605.3 C306.5,605.3 308.5,608.2 310.9,610.7 C313.4,613.2 316.3,619.9 319.0,620.1 C321.7,620.4 324.0,614.8 327.1,612.1 C330.3,609.4 334.3,606.4 337.9,604.0 C341.5,601.5 345.3,598.4 348.7,597.2 C352.0,596.1 355.2,595.9 358.1,597.2 C361.0,598.6 363.9,602.6 366.2,605.3 C368.4,608.0 369.8,613.0 371.6,613.4 C373.4,613.9 374.7,610.0 377.0,608.0 C379.2,606.0 381.4,602.6 385.0,601.3 C388.6,599.9 394.7,599.9 398.5,599.9 C402.3,599.9 405.5,599.9 408.0,601.3 C410.4,602.6 411.5,601.5 413.3,608.0 C415.2,614.5 412.8,635.0 419.3,640.4 C425.7,645.8 445.7,646.7 451.9,640.4 C458.1,634.1 454.8,610.7 456.5,602.6 C458.1,594.5 459.8,592.7 461.9,591.8 C463.9,590.9 466.1,594.5 468.6,597.2 C471.1,599.9 474.2,606.0 476.7,608.0 C479.2,610.0 481.2,610.7 483.4,609.4 C485.7,608.0 487.7,603.3 490.2,599.9 C492.6,596.6 495.6,591.8 498.2,589.2 C500.9,586.5 503.2,586.7 506.3,583.8 C509.5,580.8 514.0,572.1 517.1,571.6 C520.3,571.2 522.1,576.1 525.2,581.1 C528.3,586.0 532.8,599.9 536.0,601.3 C539.1,602.6 542.5,592.1 544.1,589.2 C545.6,586.2 544.3,585.8 545.4,583.8 C546.5,581.7 548.8,577.5 550.8,577.0 C552.8,576.6 555.3,582.6 557.5,581.1 C559.8,579.5 561.8,571.4 564.3,567.6 C566.7,563.8 569.9,558.6 572.3,558.2 C574.8,557.7 577.3,560.6 579.1,564.9 C580.9,569.2 581.8,576.6 583.1,583.8 C584.5,590.9 585.8,600.8 587.2,608.0 C588.5,615.2 590.1,621.5 591.2,626.9 C592.3,632.3 593.0,641.3 593.9,640.4 C594.8,639.5 595.5,630.7 596.6,621.5 C597.7,612.3 599.3,590.0 600.6,585.1 C602.0,580.2 603.6,585.8 604.7,591.8 C605.8,597.9 606.7,613.4 607.4,621.5 C608.1,629.6 607.2,637.2 608.7,640.4 C610.3,643.5 615.2,644.4 616.8,640.4 C618.5,636.3 617.9,622.8 618.7,616.1 C619.5,609.4 620.4,600.8 621.4,599.9 C622.4,599.0 623.9,604.0 624.9,610.7 C625.9,617.5 626.3,635.4 627.6,640.4 C628.9,645.3 631.6,645.8 633.0,640.4 C634.3,635.0 634.6,619.2 635.7,608.0 C636.8,596.8 638.4,580.2 639.7,573.0 C641.1,565.8 642.2,565.6 643.8,564.9 C645.3,564.2 647.4,566.5 649.2,568.9 C651.0,571.4 653.0,579.9 654.6,579.7 C656.1,579.5 657.0,574.1 658.6,567.6 C660.2,561.1 662.0,546.0 664.0,540.6 C666.0,535.2 668.5,535.5 670.7,535.2 C673.0,535.0 675.0,537.5 677.5,539.3 C679.9,541.1 682.4,543.3 685.6,546.0 C688.7,548.7 693.4,552.8 696.3,555.5 C699.3,558.2 700.8,562.9 703.1,562.2 C705.3,561.5 707.3,556.8 709.8,551.4 C712.3,546.0 714.8,535.7 717.9,529.9 C721.0,524.0 725.8,517.7 728.7,516.4 C731.6,515.0 732.9,519.1 735.4,521.8 C737.9,524.5 740.8,529.0 743.5,532.5 C746.2,536.1 749.1,540.6 751.6,543.3 C754.0,546.0 756.1,551.0 758.3,548.7 C760.5,546.5 762.6,537.5 765.0,529.9 C767.5,522.2 770.7,509.4 773.1,502.9 C775.6,496.4 777.6,493.0 779.9,490.8 C782.1,488.5 784.4,487.8 786.6,489.4 C788.8,491.0 791.3,493.5 793.3,500.2 C795.4,506.9 797.2,518.6 798.7,529.9 C800.3,541.1 801.7,556.4 802.8,567.6 C803.9,578.8 804.7,590.0 805.5,597.2 C806.2,604.4 806.7,611.6 807.4,610.7 C808.0,609.8 808.7,602.2 809.5,591.8 C810.3,581.5 811.1,561.7 812.2,548.7 C813.3,535.7 814.7,522.4 816.3,513.7 C817.8,504.9 819.8,498.4 821.6,496.2 C823.4,493.9 825.5,496.4 827.0,500.2 C828.6,504.0 829.7,513.5 831.1,519.1 C832.4,524.7 834.0,531.2 835.1,533.9 C836.2,536.6 836.9,536.8 837.8,535.2 C838.7,533.7 839.2,531.6 840.5,524.5 C841.9,517.3 843.7,502.0 845.9,492.1 C848.1,482.2 851.3,472.3 854.0,465.2 C856.7,458.0 858.9,453.9 862.1,449.0 C865.2,444.0 869.3,438.9 872.9,435.5 C876.5,432.1 880.5,431.5 883.6,428.8 C886.8,426.1 889.0,424.1 891.7,419.3 C894.4,414.6 897.1,407.2 899.8,400.5 C902.5,393.7 905.2,385.2 907.9,378.9 C910.6,372.6 913.3,367.0 916.0,362.7 C918.7,358.5 922.1,355.5 924.1,353.3 C926.1,351.1 926.3,350.4 928.1,349.3 C929.9,348.1 932.8,346.3 934.8,346.6 C936.8,346.8 938.2,347.5 940.2,350.6 C942.2,353.8 944.5,359.8 947.0,365.4 C949.4,371.0 952.3,378.5 955.0,384.3 C957.7,390.1 960.4,395.5 963.1,400.5 C965.8,405.4 968.1,409.9 971.2,413.9 C974.4,418.0 978.4,421.1 982.0,424.7 C985.6,428.3 989.2,431.5 992.8,435.5 C996.4,439.6 1000.0,444.3 1003.6,449.0 C1007.2,453.7 1010.7,459.8 1014.3,463.8 C1017.9,467.9 1021.5,470.6 1025.1,473.2 C1028.7,475.9 1032.3,477.7 1035.9,480.0 C1039.5,482.2 1043.1,484.9 1046.7,486.7 C1050.3,488.5 1053.9,489.4 1057.5,490.8 C1061.1,492.1 1065.1,492.8 1068.2,494.8 C1071.4,496.8 1073.6,500.2 1076.3,502.9 C1079.0,505.6 1081.7,508.7 1084.4,511.0 C1087.1,513.2 1090.0,515.3 1092.5,516.4 C1095.0,517.5 1097.0,518.2 1099.2,517.7 C1101.5,517.3 1104.0,514.1 1106.0,513.7 C1108.0,513.2 1109.4,512.8 1111.4,515.0 C1113.4,517.3 1115.6,523.8 1118.1,527.2 C1120.6,530.5 1123.0,534.1 1126.2,535.2 C1129.3,536.4 1132.9,533.9 1137.0,533.9 C1141.0,533.9 1145.9,534.8 1150.4,535.2 C1154.9,535.7 1159.9,536.4 1163.9,536.6 C1168.0,536.8 1171.1,534.6 1174.7,536.6 C1178.3,538.6 1181.9,545.6 1185.5,548.7 C1189.1,551.9 1192.7,555.2 1196.3,555.5 C1199.8,555.7 1203.7,551.4 1207.0,550.1 C1210.4,548.7 1213.3,546.7 1216.5,547.4 C1219.6,548.0 1222.5,551.2 1225.9,554.1 C1229.3,557.0 1233.1,562.2 1236.7,564.9 C1240.3,567.6 1243.4,570.3 1247.5,570.3 C1251.5,570.3 1256.9,566.5 1260.9,564.9 C1265.0,563.3 1268.1,561.3 1271.7,560.8 C1275.3,560.4 1278.9,561.1 1282.5,562.2 C1286.1,563.3 1290.1,565.1 1293.3,567.6 C1296.4,570.1 1297.8,575.7 1301.4,577.0 C1305.0,578.4 1310.8,577.0 1314.9,575.7 C1318.9,574.3 1322.5,570.7 1325.6,568.9 C1328.8,567.1 1331.0,564.2 1333.7,564.9 C1336.4,565.6 1338.9,569.4 1341.8,573.0 C1344.7,576.6 1349.7,584.2 1351.2,586.5" stroke="#edb120" stroke-width="2.6"/>
<path d="M162.7,609.4 C164.9,609.6 171.7,610.3 176.2,610.7 C180.7,611.2 185.6,611.4 189.6,612.1 C193.7,612.7 196.4,613.9 200.4,614.8 C204.5,615.7 209.4,616.8 213.9,617.5 C218.4,618.1 223.3,618.4 227.4,618.8 C231.4,619.2 235.5,619.2 238.2,620.1 C240.9,621.0 242.2,620.8 243.6,624.2 C244.9,627.6 238.4,637.7 246.3,640.4 C254.1,643.1 282.6,642.4 290.7,640.4 C298.8,638.3 293.2,630.9 294.8,628.2 C296.3,625.5 297.5,625.8 300.2,624.2 C302.9,622.6 307.3,618.8 310.9,618.8 C314.5,618.8 318.1,624.2 321.7,624.2 C325.3,624.2 328.5,620.1 332.5,618.8 C336.5,617.5 340.8,616.3 346.0,616.1 C351.1,615.9 358.3,617.5 363.5,617.5 C368.6,617.5 372.9,616.6 377.0,616.1 C381.0,615.7 384.1,614.5 387.7,614.8 C391.3,615.0 395.4,615.9 398.5,617.5 C401.7,619.0 404.5,620.4 406.6,624.2 C408.7,628.0 401.8,637.7 411.2,640.4 C420.5,643.1 452.7,643.7 462.7,640.4 C472.7,637.0 468.1,624.2 471.3,620.1 C474.5,616.1 478.5,617.7 482.1,616.1 C485.7,614.5 489.3,613.0 492.9,610.7 C496.5,608.5 500.0,603.1 503.6,602.6 C507.2,602.2 510.8,607.6 514.4,608.0 C518.0,608.5 521.2,606.2 525.2,605.3 C529.2,604.4 534.4,602.9 538.7,602.6 C542.9,602.4 547.0,604.4 550.8,604.0 C554.6,603.5 558.0,599.9 561.6,599.9 C565.2,599.9 569.2,602.6 572.3,604.0 C575.5,605.3 578.2,606.4 580.4,608.0 C582.7,609.6 584.0,611.2 585.8,613.4 C587.6,615.7 589.4,619.7 591.2,621.5 C593.0,623.3 595.0,621.0 596.6,624.2 C598.2,627.3 595.3,637.7 600.6,640.4 C606.0,643.1 623.1,644.0 628.9,640.4 C634.8,636.8 633.0,624.2 635.7,618.8 C638.4,613.4 641.8,611.6 645.1,608.0 C648.5,604.4 652.8,600.4 655.9,597.2 C659.0,594.1 660.8,590.7 664.0,589.2 C667.1,587.6 671.2,588.5 674.8,587.8 C678.4,587.1 682.2,584.7 685.6,585.1 C688.9,585.6 692.1,590.0 695.0,590.5 C697.9,590.9 700.6,589.8 703.1,587.8 C705.5,585.8 707.3,581.1 709.8,578.4 C712.3,575.7 714.8,571.9 717.9,571.6 C721.0,571.4 725.2,575.6 728.7,577.0 C732.1,578.5 735.5,579.2 738.5,580.4 C741.6,581.5 744.2,583.2 747.0,583.9 C749.9,584.6 752.9,586.0 755.5,584.6 C758.1,583.2 760.0,578.2 762.6,575.4 C765.2,572.6 768.5,568.1 771.1,567.6 C773.7,567.1 776.1,569.8 778.2,572.6 C780.4,575.3 781.8,581.9 783.9,583.9 C786.0,585.9 788.9,584.1 791.0,584.6 C793.1,585.1 795.0,583.3 796.7,586.7 C798.3,590.2 799.7,597.7 800.9,605.2 C802.2,612.6 799.9,626.9 804.1,631.4 C808.3,635.9 821.7,637.2 826.1,632.1 C830.5,627.0 829.2,610.4 830.7,600.9 C832.2,591.5 833.3,581.7 835.0,575.4 C836.6,569.1 838.7,564.8 840.6,563.3 C842.5,561.9 844.4,564.9 846.3,566.9 C848.2,568.9 850.1,574.7 852.0,575.4 C853.9,576.1 855.5,574.0 857.7,571.1 C859.8,568.3 862.4,561.9 864.8,558.4 C867.1,554.8 869.2,552.5 871.8,549.9 C874.4,547.3 877.3,545.0 880.4,542.8 C883.4,540.5 887.4,536.6 890.3,536.4 C893.1,536.1 895.8,540.1 897.4,541.3 C899.0,542.6 898.7,540.9 900.0,544.1 C901.3,547.3 903.4,555.1 905.0,560.6 C906.5,566.1 907.7,572.1 909.1,577.2 C910.5,582.3 912.0,587.5 913.2,591.2 C914.5,594.9 915.6,597.8 916.5,599.5 C917.5,601.1 918.2,601.4 919.0,601.1 C919.8,600.8 920.5,599.6 921.5,597.8 C922.4,596.0 923.7,592.0 924.8,590.4 C925.9,588.8 927.0,588.2 928.1,588.3 C929.1,588.4 930.1,589.3 931.0,591.2 C931.8,593.1 932.3,595.6 933.0,599.5 C933.8,603.3 934.7,609.8 935.5,614.3 C936.3,618.9 937.3,623.6 938.0,626.7 C938.6,629.8 938.9,631.9 939.4,632.9 C939.9,633.9 940.2,637.4 941.1,632.9 C941.9,628.4 943.5,615.4 944.6,606.1 C945.7,596.8 946.9,585.4 947.9,577.2 C948.9,568.9 949.5,562.7 950.4,556.5 C951.2,550.3 951.9,546.2 952.8,540.0 C953.8,533.8 955.1,525.1 956.2,519.4 C957.3,513.6 957.8,509.2 959.5,505.3 C961.1,501.5 959.2,499.3 966.1,496.2 C973.0,493.1 993.3,489.9 1000.9,486.7 C1008.5,483.6 1008.1,480.7 1011.6,477.3 C1015.2,473.9 1018.8,469.9 1022.4,466.5 C1026.0,463.1 1029.6,460.0 1033.2,457.1 C1036.8,454.2 1040.4,452.6 1044.0,449.0 C1047.6,445.4 1051.6,440.0 1054.8,435.5 C1057.9,431.0 1060.2,427.0 1062.9,422.0 C1065.6,417.1 1068.2,411.3 1070.9,405.9 C1073.6,400.5 1076.3,395.1 1079.0,389.7 C1081.7,384.3 1084.4,378.9 1087.1,373.5 C1089.8,368.1 1092.1,361.8 1095.2,357.3 C1098.3,352.9 1102.8,347.5 1106.0,346.6 C1109.1,345.7 1112.1,349.3 1114.1,352.0 C1116.1,354.6 1116.1,358.2 1118.1,362.7 C1120.1,367.2 1123.0,373.1 1126.2,378.9 C1129.3,384.7 1133.4,391.5 1137.0,397.8 C1140.5,404.1 1144.1,410.8 1147.7,416.6 C1151.3,422.5 1155.4,428.3 1158.5,432.8 C1161.7,437.3 1163.5,440.5 1166.6,443.6 C1169.7,446.7 1173.8,448.5 1177.4,451.7 C1181.0,454.8 1184.6,458.4 1188.2,462.5 C1191.8,466.5 1194.9,472.3 1198.9,475.9 C1203.0,479.5 1208.4,481.8 1212.4,484.0 C1216.5,486.3 1219.6,487.2 1223.2,489.4 C1226.8,491.7 1229.9,495.0 1234.0,497.5 C1238.0,500.0 1243.0,502.2 1247.5,504.2 C1252.0,506.3 1256.9,507.8 1260.9,509.6 C1265.0,511.4 1268.1,513.5 1271.7,515.0 C1275.3,516.6 1278.9,517.7 1282.5,519.1 C1286.1,520.4 1289.7,521.5 1293.3,523.1 C1296.9,524.7 1300.0,526.9 1304.1,528.5 C1308.1,530.1 1313.1,531.4 1317.5,532.5 C1322.0,533.7 1327.0,533.9 1331.0,535.2 C1335.1,536.6 1338.4,538.8 1341.8,540.6 C1345.2,542.4 1349.7,545.1 1351.2,546.0" stroke="#e8000a" stroke-width="2.6"/>
<path d="M162.7,605.3 C164.5,605.5 169.4,607.6 173.5,606.7 C177.5,605.8 182.5,601.1 187.0,599.9 C191.4,598.8 196.8,599.3 200.4,599.9 C204.0,600.6 205.8,601.7 208.5,604.0 C211.2,606.2 213.5,611.6 216.6,613.4 C219.7,615.2 223.8,614.3 227.4,614.8 C231.0,615.2 235.5,615.2 238.2,616.1 C240.9,617.0 242.0,616.1 243.6,620.1 C245.1,624.2 239.3,637.0 247.6,640.4 C255.9,643.7 285.3,643.5 293.4,640.4 C301.5,637.2 295.0,625.5 296.1,621.5 C297.2,617.5 298.6,617.7 300.2,616.1 C301.7,614.5 303.3,613.2 305.6,612.1 C307.8,610.9 310.9,608.7 313.6,609.4 C316.3,610.0 319.5,614.1 321.7,616.1 C324.0,618.1 324.9,621.7 327.1,621.5 C329.4,621.3 331.6,616.6 335.2,614.8 C338.8,613.0 344.4,611.9 348.7,610.7 C352.9,609.5 357.4,607.9 360.8,607.5 C364.1,607.0 366.2,606.8 368.9,608.0 C371.6,609.2 374.3,612.5 377.0,614.8 C379.6,617.0 382.3,619.9 385.0,621.5 C387.7,623.1 390.4,624.2 393.1,624.2 C395.8,624.2 398.7,621.3 401.2,621.5 C403.7,621.7 406.1,622.4 408.0,625.5 C409.8,628.7 403.9,637.9 412.5,640.4 C421.2,642.8 451.1,644.0 460.0,640.4 C468.9,636.8 463.1,623.3 465.9,618.8 C468.7,614.3 473.5,613.6 476.7,613.4 C479.8,613.2 482.5,616.1 484.8,617.5 C487.0,618.8 487.5,621.7 490.2,621.5 C492.9,621.3 497.3,617.9 500.9,616.1 C504.5,614.3 507.7,612.3 511.7,610.7 C515.8,609.1 521.6,607.1 525.2,606.7 C528.8,606.2 530.6,606.4 533.3,608.0 C536.0,609.6 538.9,613.9 541.4,616.1 C543.8,618.4 545.6,621.3 548.1,621.5 C550.6,621.7 553.5,619.2 556.2,617.5 C558.9,615.7 561.6,612.7 564.3,610.7 C567.0,608.7 569.6,605.8 572.3,605.3 C575.0,604.9 578.0,606.7 580.4,608.0 C582.9,609.4 585.4,610.3 587.2,613.4 C589.0,616.6 590.1,622.4 591.2,626.9 C592.3,631.4 587.4,638.1 593.9,640.4 C600.4,642.6 623.6,643.5 630.3,640.4 C637.0,637.2 632.3,626.0 634.3,621.5 C636.4,617.0 639.3,614.3 642.4,613.4 C645.6,612.5 649.6,617.2 653.2,616.1 C656.8,615.0 660.4,610.3 664.0,606.7 C667.6,603.1 671.2,597.0 674.8,594.5 C678.4,592.1 682.2,592.7 685.6,591.8 C688.9,590.9 692.3,588.7 695.0,589.2 C697.7,589.6 699.5,591.4 701.7,594.5 C704.0,597.7 706.2,606.2 708.5,608.0 C710.7,609.8 712.7,606.7 715.2,605.3 C717.7,604.0 720.6,602.4 723.3,599.9 C726.0,597.5 729.3,592.5 731.4,590.5 C733.4,588.5 733.5,588.5 735.7,588.2 C737.8,587.8 741.6,587.9 744.2,588.2 C746.8,588.4 749.4,588.2 751.3,589.6 C753.2,591.0 753.9,594.3 755.5,596.7 C757.2,599.0 758.8,603.3 761.2,603.8 C763.6,604.2 766.9,599.3 769.7,599.5 C772.6,599.7 775.9,605.4 778.2,605.2 C780.6,604.9 782.2,600.2 783.9,598.1 C785.6,596.0 786.7,592.6 788.2,592.4 C789.6,592.2 791.0,594.3 792.4,596.7 C793.8,599.0 795.2,603.3 796.7,606.6 C798.1,609.9 799.7,612.3 800.9,616.5 C802.2,620.8 799.7,629.5 804.1,632.1 C808.5,634.7 823.1,635.9 827.5,632.1 C832.0,628.3 829.5,614.9 830.7,609.4 C832.0,604.0 833.3,601.7 835.0,599.5 C836.6,597.3 838.7,598.6 840.6,596.0 C842.5,593.4 844.4,586.9 846.3,583.9 C848.2,580.9 850.1,579.1 852.0,578.2 C853.9,577.4 855.5,578.0 857.7,578.9 C859.8,579.9 862.4,581.9 864.8,583.9 C867.1,585.9 870.0,589.1 871.8,591.0 C873.7,592.9 874.7,596.0 876.1,595.2 C877.5,594.5 878.7,589.5 880.4,586.7 C882.0,584.0 883.9,580.5 886.0,578.9 C888.2,577.4 890.8,577.7 893.1,577.5 C895.4,577.4 898.2,578.5 900.0,578.0 C901.8,577.5 902.8,575.8 904.1,574.7 C905.5,573.6 906.9,571.1 908.3,571.4 C909.6,571.7 911.1,573.9 912.4,576.3 C913.6,578.8 914.8,582.4 915.7,586.2 C916.6,590.1 917.1,594.8 917.8,599.5 C918.4,604.1 918.8,608.8 919.4,614.3 C920.0,619.8 917.4,629.4 921.3,632.5 C925.2,635.6 938.6,638.7 942.7,632.9 C946.9,627.1 945.1,607.5 946.2,597.8 C947.4,588.1 948.3,581.6 949.5,574.7 C950.8,567.8 952.3,560.5 953.7,556.5 C955.1,552.5 956.0,551.1 957.8,550.7 C959.6,550.3 962.3,552.6 964.4,554.0 C966.5,555.5 968.3,558.4 970.2,559.4 C972.1,560.4 974.5,559.9 976.0,560.2 C977.5,560.6 977.6,560.7 979.3,561.5 C980.9,562.2 984.0,564.9 985.9,564.8 C987.8,564.6 989.3,562.7 990.8,560.6 C992.3,558.6 993.3,557.1 995.0,552.4 C996.6,547.7 998.1,537.4 1000.9,532.5 C1003.6,527.7 1008.5,524.5 1011.6,523.1 C1014.8,521.8 1017.0,522.4 1019.7,524.5 C1022.4,526.5 1025.1,531.2 1027.8,535.2 C1030.5,539.3 1033.7,545.4 1035.9,548.7 C1038.1,552.1 1039.5,555.9 1041.3,555.5 C1043.1,555.0 1044.4,551.2 1046.7,546.0 C1048.9,540.9 1052.1,531.6 1054.8,524.5 C1057.5,517.3 1060.4,508.3 1062.9,502.9 C1065.3,497.5 1067.3,493.0 1069.6,492.1 C1071.8,491.2 1074.3,493.0 1076.3,497.5 C1078.4,502.0 1079.9,509.6 1081.7,519.1 C1083.5,528.5 1085.8,541.5 1087.1,554.1 C1088.5,566.7 1089.0,580.2 1089.8,594.5 C1090.6,608.9 1091.2,632.7 1092.0,640.4 C1092.8,648.0 1093.7,650.2 1094.7,640.4 C1095.7,630.5 1096.5,601.3 1097.9,581.1 C1099.3,560.8 1101.5,531.4 1103.3,519.1 C1105.1,506.7 1107.1,507.8 1108.7,506.9 C1110.3,506.0 1111.2,507.2 1112.7,513.7 C1114.2,520.2 1116.2,534.3 1117.5,546.0 C1118.9,557.7 1119.7,582.4 1120.8,583.8 C1121.9,585.1 1122.9,564.9 1124.0,554.1 C1125.1,543.3 1126.0,530.3 1127.5,519.1 C1129.0,507.8 1130.9,495.7 1132.9,486.7 C1134.9,477.7 1137.2,471.0 1139.6,465.2 C1142.1,459.3 1145.0,454.7 1147.7,451.7 C1150.4,448.6 1152.7,448.0 1155.8,446.8 C1159.0,445.7 1163.0,446.8 1166.6,444.9 C1170.2,443.1 1173.8,440.7 1177.4,435.5 C1181.0,430.3 1184.6,421.1 1188.2,413.9 C1191.8,406.8 1195.4,400.0 1198.9,392.4 C1202.5,384.7 1206.6,375.3 1209.7,368.1 C1212.9,360.9 1216.0,352.6 1217.8,349.3 C1219.6,345.9 1218.7,347.0 1220.5,347.9 C1222.3,348.8 1225.5,352.6 1228.6,354.6 C1231.7,356.7 1236.2,357.3 1239.4,360.0 C1242.5,362.7 1244.3,365.4 1247.5,370.8 C1250.6,376.2 1254.7,385.6 1258.2,392.4 C1261.8,399.1 1265.4,405.0 1269.0,411.3 C1272.6,417.5 1276.2,425.2 1279.8,430.1 C1283.4,435.1 1287.0,436.4 1290.6,440.9 C1294.2,445.4 1297.3,451.7 1301.4,457.1 C1305.4,462.5 1310.8,470.3 1314.9,473.2 C1318.9,476.2 1322.5,474.1 1325.6,474.6 C1328.8,475.0 1331.0,474.4 1333.7,475.9 C1336.4,477.5 1338.9,480.9 1341.8,484.0 C1344.7,487.2 1349.7,493.0 1351.2,494.8" stroke="#b0000e" stroke-width="2.6"/>
</g>
<clipPath id="clipc"><rect x="166.5" y="737.1" width="1185.8" height="332.30000000000007"/></clipPath>
<g clip-path="url(#clipc)" fill="none" stroke-linejoin="round" stroke-linecap="round">
<path d="M167.4,736.5 C169.7,736.7 176.1,737.0 180.7,737.4 C185.4,737.8 190.6,738.6 195.5,738.9 C200.5,739.3 205.4,739.1 210.3,739.5 C215.2,739.9 220.2,740.4 225.1,741.3 C230.0,742.2 235.4,742.8 239.9,744.8 C244.3,746.9 248.5,750.2 251.7,753.7 C254.9,757.1 256.9,760.1 259.1,765.5 C261.3,770.9 263.3,777.8 265.0,786.2 C266.7,794.6 268.0,803.5 269.4,815.8 C270.9,828.1 272.5,844.4 273.9,860.1 C275.3,875.9 276.7,895.4 277.7,910.4 C278.8,925.4 279.3,950.3 280.1,950.3 C280.9,950.3 281.8,925.4 282.8,910.4 C283.7,895.4 284.5,875.9 285.7,860.1 C286.9,844.4 288.7,828.6 290.1,815.8 C291.6,803.0 292.9,791.6 294.6,783.3 C296.3,774.9 297.8,770.5 300.5,765.5 C303.2,760.6 307.1,756.7 310.8,753.7 C314.5,750.7 318.7,749.2 322.7,747.8 C326.6,746.4 330.6,745.8 334.5,745.4 C338.4,745.0 341.3,746.0 346.3,745.4 C351.4,744.8 359.8,742.1 364.8,741.9 C369.9,741.7 372.2,743.7 376.7,744.2 C381.1,744.7 387.0,744.5 391.4,744.8 C395.9,745.2 399.8,744.8 403.3,746.3 C406.7,747.8 409.2,750.5 412.1,753.7 C415.1,756.9 418.3,761.1 421.0,765.5 C423.7,770.0 426.2,773.4 428.4,780.3 C430.6,787.2 432.6,797.1 434.3,806.9 C436.0,816.8 437.3,828.6 438.7,839.4 C440.2,850.3 441.6,860.6 443.2,872.0 C444.8,883.3 447.0,907.0 448.5,907.5 C450.0,907.9 451.0,886.8 452.1,874.9 C453.1,863.1 453.8,849.3 455.0,836.5 C456.2,823.7 457.7,808.9 459.4,798.1 C461.2,787.2 463.1,778.3 465.4,771.4 C467.6,764.5 469.8,760.4 472.8,756.7 C475.7,753.0 479.4,751.0 483.1,749.3 C486.8,747.5 491.0,747.1 494.9,746.3 C498.9,745.5 502.8,745.0 506.8,744.2 C510.7,743.5 514.6,742.0 518.6,741.9 C522.5,741.7 526.5,743.3 530.4,743.3 C534.4,743.3 538.2,742.1 542.2,741.9 C546.3,741.6 550.8,741.4 554.8,741.9 C558.9,742.4 562.2,744.1 566.7,744.8 C571.1,745.6 577.5,745.3 581.4,746.3 C585.4,747.3 587.4,748.5 590.3,750.7 C593.3,753.0 596.5,756.2 599.2,759.6 C601.9,763.1 604.4,766.0 606.6,771.4 C608.8,776.9 610.8,782.8 612.5,792.1 C614.2,801.5 615.6,813.8 616.9,827.6 C618.3,841.4 619.4,859.2 620.5,874.9 C621.6,890.7 622.5,908.4 623.4,922.2 C624.3,936.0 625.2,948.4 625.8,957.7 C626.4,967.1 626.7,980.4 627.3,978.4 C627.9,976.4 628.6,959.7 629.3,945.9 C630.1,932.1 630.8,912.4 631.7,895.6 C632.6,878.9 633.7,860.1 634.7,845.4 C635.6,830.6 636.4,817.8 637.6,806.9 C638.9,796.1 640.1,787.7 642.1,780.3 C644.0,772.9 646.7,767.0 649.4,762.6 C652.2,758.1 654.9,756.2 658.3,753.7 C661.8,751.2 666.2,749.0 670.1,747.8 C674.1,746.6 678.0,747.0 682.0,746.3 C685.9,745.6 690.3,744.3 693.8,743.3 C697.2,742.4 699.7,740.7 702.7,740.4 C705.6,740.0 708.6,740.6 711.5,741.3 C714.5,741.9 717.5,744.1 720.4,744.2 C723.4,744.3 725.7,742.8 729.3,741.9 C732.9,741.0 738.3,738.9 741.9,738.9 C745.4,738.9 747.3,740.6 750.7,741.9 C754.2,743.1 758.6,745.9 762.6,746.3 C766.5,746.7 770.9,744.0 774.4,744.2 C777.8,744.5 780.3,746.2 783.3,747.8 C786.2,749.4 789.2,751.2 792.1,753.7 C795.1,756.2 798.3,758.6 801.0,762.6 C803.7,766.5 806.2,770.5 808.4,777.4 C810.6,784.3 812.6,794.1 814.3,804.0 C816.0,813.8 817.4,825.2 818.7,836.5 C820.1,847.8 821.4,860.9 822.6,872.0 C823.8,883.1 824.8,903.0 825.8,903.0 C826.9,903.0 827.8,883.6 829.1,872.0 C830.4,860.4 831.8,845.9 833.5,833.5 C835.3,821.2 837.2,808.4 839.4,798.1 C841.7,787.7 844.4,778.3 846.8,771.4 C849.3,764.5 851.5,759.9 854.2,756.7 C856.9,753.5 859.7,753.1 863.1,752.2 C866.6,751.3 871.0,751.8 874.9,751.3 C878.9,750.8 882.8,749.1 886.8,749.3 C890.7,749.4 894.6,750.7 898.6,752.2 C902.5,753.7 907.0,755.9 910.4,758.1 C913.9,760.4 916.8,761.8 919.3,765.5 C921.7,769.2 923.1,767.0 925.2,780.3 C927.3,793.6 930.0,828.6 931.9,845.4 C933.7,862.1 934.8,870.5 936.3,880.8 C937.8,891.2 939.4,907.5 940.7,907.5 C942.1,907.5 943.1,892.2 944.3,880.8 C945.5,869.5 946.8,852.3 948.1,839.4 C949.5,826.6 950.8,814.3 952.6,804.0 C954.3,793.6 956.0,784.7 958.5,777.4 C960.9,770.0 964.4,763.8 967.4,759.6 C970.3,755.4 973.3,753.5 976.2,752.2 C979.2,751.0 982.1,753.2 985.1,752.2 C988.1,751.2 990.5,748.1 994.0,746.3 C997.4,744.5 1002.3,741.8 1005.8,741.3 C1009.2,740.8 1011.7,742.5 1014.7,743.3 C1017.6,744.2 1020.1,746.6 1023.5,746.3 C1027.0,746.1 1031.9,742.4 1035.4,741.9 C1038.8,741.4 1041.3,742.4 1044.2,743.3 C1047.2,744.3 1049.7,747.0 1053.1,747.8 C1056.6,748.5 1061.0,748.0 1064.9,747.8 C1068.9,747.5 1073.3,746.1 1076.8,746.3 C1080.2,746.6 1082.9,747.0 1085.6,749.3 C1088.3,751.5 1090.6,754.4 1093.0,759.6 C1095.5,764.8 1098.4,772.4 1100.4,780.3 C1102.4,788.2 1103.4,795.1 1104.8,806.9 C1106.3,818.7 1107.9,836.0 1109.3,851.3 C1110.7,866.6 1112.1,885.5 1113.1,898.6 C1114.1,911.6 1114.0,937.5 1115.2,929.6 C1116.4,921.7 1118.8,871.7 1120.4,851.2 C1122.0,830.7 1123.1,818.2 1124.8,806.9 C1126.5,795.5 1128.3,790.1 1130.7,783.2 C1133.2,776.3 1136.6,770.4 1139.6,765.5 C1142.6,760.6 1145.3,756.9 1148.5,753.7 C1151.7,750.5 1155.6,747.0 1158.8,746.3 C1162.0,745.6 1165.0,748.3 1167.7,749.3 C1170.4,750.2 1172.3,752.5 1175.1,752.2 C1177.8,752.0 1180.7,749.0 1183.9,747.8 C1187.1,746.5 1191.3,744.3 1194.3,744.8 C1197.2,745.3 1198.9,747.8 1201.7,750.7 C1204.4,753.7 1208.1,758.6 1210.5,762.6 C1213.0,766.5 1214.5,769.0 1216.4,774.4 C1218.4,779.8 1220.6,787.2 1222.3,795.1 C1224.1,802.9 1225.4,811.3 1226.8,821.7 C1228.1,832.0 1229.4,845.8 1230.6,857.1 C1231.8,868.4 1233.2,880.5 1234.2,889.6 C1235.1,898.7 1235.6,912.3 1236.5,911.8 C1237.4,911.3 1238.4,896.8 1239.5,886.7 C1240.6,876.6 1241.7,863.0 1243.0,851.2 C1244.4,839.4 1246.0,826.1 1247.5,815.7 C1248.9,805.4 1250.2,797.0 1251.9,789.1 C1253.6,781.3 1255.3,774.4 1257.8,768.5 C1260.3,762.6 1263.7,757.1 1266.7,753.7 C1269.6,750.2 1272.1,748.5 1275.5,747.8 C1279.0,747.0 1283.9,749.7 1287.3,749.3 C1290.8,748.8 1292.8,746.8 1296.2,744.8 C1299.7,742.9 1304.1,738.4 1308.0,737.4 C1312.0,736.4 1316.4,737.9 1319.9,738.9 C1323.3,739.9 1325.3,742.9 1328.7,743.3 C1332.2,743.8 1336.6,741.7 1340.5,741.9 C1344.5,742.0 1350.4,743.8 1352.4,744.2" stroke="#000000" stroke-width="1.2"/>
<path d="M166.0,919.3 C167.9,918.0 173.3,915.8 177.8,911.9 C182.2,907.9 187.6,901.3 192.6,895.6 C197.5,890.0 203.4,881.8 207.4,877.9 C211.3,873.9 212.8,875.9 216.2,872.0 C219.7,868.0 224.1,860.6 228.1,854.2 C232.0,847.8 235.9,840.9 239.9,833.5 C243.8,826.1 247.8,818.3 251.7,809.9 C255.6,801.5 259.8,790.7 263.5,783.3 C267.2,775.9 270.4,769.6 273.9,765.5 C277.3,761.5 281.3,759.5 284.2,759.0 C287.2,758.5 288.7,758.5 291.6,762.6 C294.6,766.6 298.3,774.9 302.0,783.3 C305.7,791.6 309.9,804.0 313.8,812.8 C317.7,821.7 322.2,829.6 325.6,836.5 C329.1,843.4 331.0,848.3 334.5,854.2 C337.9,860.1 341.8,864.6 346.3,872.0 C350.9,879.4 357.8,892.2 361.9,898.6 C365.9,905.0 367.3,907.0 370.7,910.4 C374.2,913.9 378.1,916.3 382.6,919.3 C387.0,922.2 392.9,924.7 397.4,928.2 C401.8,931.6 405.2,937.0 409.2,940.0 C413.1,942.9 417.6,943.9 421.0,945.9 C424.5,947.9 426.4,949.3 429.9,951.8 C433.3,954.3 438.3,959.0 441.7,960.7 C445.2,962.4 447.6,961.2 450.6,962.2 C453.5,963.1 456.0,965.4 459.4,966.6 C462.9,967.8 467.8,967.6 471.3,969.5 C474.7,971.5 476.7,976.4 480.1,978.4 C483.6,980.4 488.0,980.1 492.0,981.4 C495.9,982.6 499.9,984.1 503.8,985.8 C507.7,987.5 511.2,990.2 515.6,991.7 C520.1,993.2 526.0,993.2 530.4,994.7 C534.8,996.2 538.7,998.9 542.2,1000.6 C545.8,1002.3 548.8,1003.5 551.9,1005.0 C555.0,1006.5 557.8,1009.0 560.7,1009.5 C563.7,1010.0 567.1,1006.8 569.6,1008.0 C572.1,1009.2 573.1,1016.1 575.5,1016.9 C578.0,1017.6 581.4,1012.4 584.4,1012.4 C587.4,1012.4 590.3,1014.9 593.3,1016.9 C596.2,1018.8 599.2,1022.3 602.1,1024.2 C605.1,1026.2 607.8,1029.4 611.0,1028.7 C614.2,1027.9 618.4,1020.6 621.4,1019.8 C624.3,1019.1 626.0,1022.8 628.7,1024.2 C631.5,1025.7 634.7,1027.7 637.6,1028.7 C640.6,1029.7 643.5,1029.7 646.5,1030.2 C649.4,1030.7 652.4,1030.4 655.4,1031.6 C658.3,1032.9 661.3,1037.3 664.2,1037.6 C667.2,1037.8 670.1,1033.4 673.1,1033.1 C676.1,1032.9 679.0,1035.3 682.0,1036.1 C684.9,1036.8 687.9,1037.8 690.8,1037.6 C693.8,1037.3 696.8,1034.6 699.7,1034.6 C702.7,1034.6 705.6,1036.6 708.6,1037.6 C711.5,1038.5 715.0,1039.0 717.5,1040.5 C719.9,1042.0 720.9,1047.7 723.4,1046.4 C725.8,1045.2 729.6,1033.6 732.2,1033.1 C734.8,1032.6 736.8,1040.8 738.9,1043.5 C741.0,1046.2 742.4,1048.9 744.8,1049.4 C747.3,1049.9 750.7,1046.4 753.7,1046.4 C756.7,1046.4 759.6,1049.6 762.6,1049.4 C765.5,1049.1 768.5,1043.5 771.4,1044.9 C774.4,1046.4 777.6,1058.0 780.3,1058.3 C783.0,1058.5 785.2,1047.4 787.7,1046.4 C790.2,1045.4 792.4,1050.6 795.1,1052.3 C797.8,1054.1 801.3,1056.8 804.0,1056.8 C806.7,1056.8 808.9,1053.6 811.4,1052.3 C813.8,1051.1 816.5,1048.4 818.7,1049.4 C821.0,1050.4 822.7,1055.3 824.7,1058.3 C826.6,1061.2 828.9,1066.1 830.6,1067.1 C832.3,1068.1 833.0,1066.1 835.0,1064.2 C837.0,1062.2 839.9,1056.3 842.4,1055.3 C844.9,1054.3 846.8,1057.3 849.8,1058.3 C852.8,1059.2 856.9,1061.2 860.1,1061.2 C863.3,1061.2 866.1,1057.3 869.0,1058.3 C872.0,1059.2 875.9,1067.1 877.9,1067.1 C879.9,1067.1 878.9,1058.7 880.8,1058.3 C882.8,1057.8 886.3,1063.7 889.7,1064.2 C893.2,1064.7 898.1,1061.2 901.5,1061.2 C905.0,1061.2 907.5,1064.7 910.4,1064.2 C913.4,1063.7 916.8,1057.8 919.3,1058.3 C921.7,1058.7 923.6,1065.6 925.2,1067.1 C926.8,1068.6 927.1,1068.4 928.9,1067.1 C930.8,1065.9 933.3,1060.2 936.3,1059.7 C939.3,1059.2 943.5,1062.9 946.7,1064.2 C949.9,1065.4 952.1,1066.9 955.5,1067.1 C959.0,1067.4 963.9,1067.4 967.4,1065.6 C970.8,1063.9 973.3,1056.5 976.2,1056.8 C979.2,1057.0 982.1,1066.4 985.1,1067.1 C988.1,1067.9 991.0,1061.5 994.0,1061.2 C996.9,1061.0 999.9,1065.6 1002.8,1065.6 C1005.8,1065.6 1008.7,1060.5 1011.7,1061.2 C1014.7,1061.9 1017.6,1070.3 1020.6,1070.1 C1023.5,1069.8 1026.5,1060.2 1029.4,1059.7 C1032.4,1059.2 1034.9,1066.4 1038.3,1067.1 C1041.8,1067.9 1046.7,1063.7 1050.1,1064.2 C1053.6,1064.7 1056.1,1070.1 1059.0,1070.1 C1062.0,1070.1 1064.9,1064.2 1067.9,1064.2 C1070.8,1064.2 1073.8,1070.8 1076.8,1070.1 C1079.7,1069.3 1082.7,1060.2 1085.6,1059.7 C1088.6,1059.2 1091.5,1065.4 1094.5,1067.1 C1097.5,1068.8 1100.4,1070.6 1103.4,1070.1 C1106.3,1069.6 1109.2,1065.9 1112.2,1064.2 C1115.3,1062.4 1118.8,1059.1 1121.9,1059.5 C1124.9,1060.0 1127.8,1066.7 1130.7,1066.9 C1133.7,1067.2 1136.6,1061.0 1139.6,1061.0 C1142.6,1061.0 1145.5,1066.9 1148.5,1066.9 C1151.4,1066.9 1154.4,1061.0 1157.3,1061.0 C1160.3,1061.0 1162.7,1067.2 1166.2,1066.9 C1169.6,1066.7 1174.6,1059.5 1178.0,1059.5 C1181.5,1059.5 1183.9,1067.7 1186.9,1066.9 C1189.8,1066.2 1193.3,1058.1 1195.7,1055.1 C1198.2,1052.1 1199.7,1048.2 1201.7,1049.2 C1203.6,1050.2 1205.1,1058.6 1207.6,1061.0 C1210.0,1063.5 1213.5,1065.0 1216.4,1064.0 C1219.4,1063.0 1222.3,1057.3 1225.3,1055.1 C1228.2,1052.9 1231.2,1049.2 1234.2,1050.7 C1237.1,1052.1 1240.1,1062.7 1243.0,1064.0 C1246.0,1065.2 1248.9,1060.0 1251.9,1058.1 C1254.8,1056.1 1257.8,1051.2 1260.8,1052.1 C1263.7,1053.1 1266.2,1063.5 1269.6,1064.0 C1273.1,1064.5 1278.0,1055.6 1281.4,1055.1 C1284.9,1054.6 1286.9,1061.5 1290.3,1061.0 C1293.8,1060.5 1298.2,1054.1 1302.1,1052.1 C1306.1,1050.2 1310.0,1048.2 1313.9,1049.2 C1317.9,1050.2 1321.8,1057.6 1325.8,1058.1 C1329.7,1058.6 1334.1,1054.6 1337.6,1052.1 C1341.0,1049.7 1344.0,1044.3 1346.5,1043.3 C1348.9,1042.3 1351.4,1045.7 1352.4,1046.2" stroke="#6005ad" stroke-width="2.6"/>
<path d="M166.0,1012.4 C166.9,1012.7 168.9,1016.6 171.9,1013.9 C174.8,1011.2 179.8,999.9 183.7,996.2 C187.6,992.5 192.1,993.4 195.5,991.7 C199.0,990.0 201.4,985.1 204.4,985.8 C207.4,986.5 210.3,992.7 213.3,996.2 C216.2,999.6 219.2,1005.5 222.1,1006.5 C225.1,1007.5 228.1,1006.8 231.0,1002.1 C234.0,997.4 237.2,984.1 239.9,978.4 C242.6,972.7 244.3,968.1 247.3,968.1 C250.2,968.1 254.7,972.3 257.6,978.4 C260.6,984.6 263.3,994.7 265.0,1005.0 C266.7,1015.4 267.1,1029.7 268.0,1040.5 C268.8,1051.4 269.5,1063.2 270.0,1070.1 C270.6,1077.0 269.9,1079.9 271.2,1081.9 C272.6,1083.9 276.6,1088.8 278.0,1081.9 C279.4,1075.0 278.8,1052.3 279.8,1040.5 C280.8,1028.7 282.5,1018.1 284.2,1010.9 C286.0,1003.8 288.2,999.4 290.1,997.6 C292.1,995.9 294.1,999.4 296.1,1000.6 C298.0,1001.8 300.0,1007.2 302.0,1005.0 C303.9,1002.8 305.9,995.2 307.9,987.3 C309.9,979.4 311.3,966.1 313.8,957.7 C316.3,949.3 319.2,942.5 322.7,937.0 C326.1,931.5 330.6,927.1 334.5,924.6 C338.4,922.1 342.9,924.1 346.3,922.2 C349.8,920.4 352.1,915.8 355.2,913.4 C358.3,910.9 361.3,911.4 364.8,907.5 C368.4,903.5 372.7,896.1 376.7,889.7 C380.6,883.3 384.0,875.9 388.5,869.0 C392.9,862.1 399.3,855.2 403.3,848.3 C407.2,841.4 408.7,835.5 412.1,827.6 C415.6,819.7 420.0,809.4 424.0,801.0 C427.9,792.6 432.3,783.8 435.8,777.4 C439.2,770.9 442.0,766.5 444.7,762.6 C447.4,758.6 449.6,753.9 452.1,753.7 C454.5,753.5 456.7,756.7 459.4,761.1 C462.2,765.5 465.4,773.2 468.3,780.3 C471.3,787.5 473.7,795.1 477.2,804.0 C480.6,812.8 485.1,825.2 489.0,833.5 C493.0,841.9 496.9,848.3 500.8,854.2 C504.8,860.1 508.7,863.6 512.7,869.0 C516.6,874.4 520.6,881.3 524.5,886.8 C528.4,892.2 532.9,897.4 536.3,901.5 C539.8,905.7 542.1,909.4 545.2,911.9 C548.3,914.4 551.3,913.6 554.8,916.3 C558.4,919.0 562.7,924.9 566.7,928.2 C570.6,931.4 574.5,933.1 578.5,935.5 C582.4,938.0 586.4,939.7 590.3,942.9 C594.3,946.1 598.7,952.3 602.1,954.8 C605.6,957.2 607.6,956.0 611.0,957.7 C614.5,959.4 619.4,963.1 622.8,965.1 C626.3,967.1 628.3,967.8 631.7,969.5 C635.2,971.3 640.1,973.5 643.5,975.5 C647.0,977.4 649.7,978.7 652.4,981.4 C655.1,984.1 657.3,991.2 659.8,991.7 C662.3,992.2 664.5,984.8 667.2,984.3 C669.9,983.8 673.1,988.3 676.1,988.8 C679.0,989.3 682.0,986.5 684.9,987.3 C687.9,988.0 690.6,991.7 693.8,993.2 C697.0,994.7 701.2,994.7 704.1,996.2 C707.1,997.6 709.3,999.6 711.5,1002.1 C713.8,1004.5 715.0,1010.9 717.5,1010.9 C719.9,1010.9 723.4,1003.1 726.3,1002.1 C729.3,1001.1 732.6,1004.3 735.2,1005.0 C737.8,1005.8 739.5,1005.0 741.9,1006.5 C744.2,1008.0 747.0,1011.7 749.3,1013.9 C751.5,1016.1 753.0,1019.8 755.2,1019.8 C757.4,1019.8 760.1,1013.4 762.6,1013.9 C765.0,1014.4 767.0,1022.3 770.0,1022.8 C772.9,1023.3 777.1,1017.1 780.3,1016.9 C783.5,1016.6 785.7,1020.8 789.2,1021.3 C792.6,1021.8 797.3,1017.6 801.0,1019.8 C804.7,1022.0 808.2,1034.1 811.4,1034.6 C814.6,1035.1 817.0,1023.5 820.2,1022.8 C823.4,1022.0 827.4,1029.2 830.6,1030.2 C833.8,1031.1 836.5,1027.9 839.4,1028.7 C842.4,1029.4 845.4,1035.1 848.3,1034.6 C851.3,1034.1 854.5,1024.2 857.2,1025.7 C859.9,1027.2 862.1,1041.5 864.6,1043.5 C867.0,1045.4 869.5,1039.0 872.0,1037.6 C874.4,1036.1 876.4,1033.9 879.4,1034.6 C882.3,1035.3 886.5,1040.5 889.7,1042.0 C892.9,1043.5 895.9,1042.2 898.6,1043.5 C901.3,1044.7 903.5,1050.4 906.0,1049.4 C908.4,1048.4 910.7,1037.1 913.4,1037.6 C916.1,1038.0 919.6,1050.9 922.2,1052.3 C924.8,1053.8 926.3,1046.9 928.9,1046.4 C931.5,1045.9 934.8,1049.4 937.8,1049.4 C940.7,1049.4 944.2,1047.7 946.7,1046.4 C949.1,1045.2 950.1,1041.5 952.6,1042.0 C955.0,1042.5 958.5,1049.4 961.4,1049.4 C964.4,1049.4 967.4,1041.0 970.3,1042.0 C973.3,1043.0 976.2,1052.8 979.2,1055.3 C982.1,1057.8 985.1,1057.5 988.1,1056.8 C991.0,1056.0 993.5,1053.1 996.9,1050.9 C1000.4,1048.6 1005.3,1042.2 1008.7,1043.5 C1012.2,1044.7 1014.4,1056.8 1017.6,1058.3 C1020.8,1059.7 1025.0,1052.3 1028.0,1052.3 C1030.9,1052.3 1032.2,1057.8 1035.4,1058.3 C1038.6,1058.7 1043.7,1054.3 1047.2,1055.3 C1050.6,1056.3 1053.1,1065.4 1056.1,1064.2 C1059.0,1062.9 1062.0,1048.4 1064.9,1047.9 C1067.9,1047.4 1070.8,1059.5 1073.8,1061.2 C1076.8,1062.9 1080.2,1059.0 1082.7,1058.3 C1085.1,1057.5 1086.1,1055.3 1088.6,1056.8 C1091.0,1058.3 1094.5,1066.4 1097.5,1067.1 C1100.4,1067.9 1103.4,1061.2 1106.3,1061.2 C1109.3,1061.2 1113.1,1069.1 1115.2,1067.1 C1117.3,1065.1 1117.6,1052.7 1118.9,1049.2 C1120.3,1045.7 1121.9,1045.3 1123.3,1046.2 C1124.8,1047.2 1126.1,1051.7 1127.8,1055.1 C1129.5,1058.6 1131.2,1065.9 1133.7,1066.9 C1136.1,1067.9 1139.6,1062.7 1142.6,1061.0 C1145.5,1059.3 1148.5,1055.6 1151.4,1056.6 C1154.4,1057.6 1156.8,1066.7 1160.3,1066.9 C1163.7,1067.2 1168.2,1060.5 1172.1,1058.1 C1176.0,1055.6 1180.5,1051.7 1183.9,1052.1 C1187.4,1052.6 1189.8,1060.0 1192.8,1061.0 C1195.7,1062.0 1198.7,1057.1 1201.7,1058.1 C1204.6,1059.0 1207.6,1067.4 1210.5,1066.9 C1213.5,1066.4 1216.4,1055.6 1219.4,1055.1 C1222.3,1054.6 1225.3,1064.0 1228.2,1064.0 C1231.2,1064.0 1234.2,1054.6 1237.1,1055.1 C1240.1,1055.6 1243.0,1066.4 1246.0,1066.9 C1248.9,1067.4 1251.9,1058.6 1254.8,1058.1 C1257.8,1057.6 1260.3,1065.7 1263.7,1064.0 C1267.2,1062.2 1272.1,1047.7 1275.5,1047.7 C1279.0,1047.7 1280.9,1063.2 1284.4,1064.0 C1287.8,1064.7 1292.8,1051.7 1296.2,1052.1 C1299.7,1052.6 1301.6,1066.9 1305.1,1066.9 C1308.5,1066.9 1313.5,1052.1 1316.9,1052.1 C1320.3,1052.1 1322.3,1067.9 1325.8,1066.9 C1329.2,1065.9 1334.1,1048.2 1337.6,1046.2 C1341.0,1044.3 1344.0,1053.6 1346.5,1055.1 C1348.9,1056.6 1351.4,1055.1 1352.4,1055.1" stroke="#1a6fd2" stroke-width="2.6"/>
<path d="M166.0,1049.4 C166.7,1050.9 168.4,1056.8 170.4,1058.3 C172.4,1059.7 175.1,1060.7 177.8,1058.3 C180.5,1055.8 183.7,1046.4 186.7,1043.5 C189.6,1040.5 192.6,1042.5 195.5,1040.5 C198.5,1038.5 201.4,1034.1 204.4,1031.6 C207.4,1029.2 210.3,1024.2 213.3,1025.7 C216.2,1027.2 219.4,1034.6 222.1,1040.5 C224.8,1046.4 227.1,1059.7 229.5,1061.2 C232.0,1062.7 234.7,1052.3 236.9,1049.4 C239.1,1046.4 240.4,1043.0 242.8,1043.5 C245.3,1044.0 249.2,1050.9 251.7,1052.3 C254.2,1053.8 255.4,1053.3 257.6,1052.3 C259.8,1051.4 263.3,1044.5 265.0,1046.4 C266.7,1048.4 267.2,1058.3 268.0,1064.2 C268.8,1070.1 264.6,1078.9 269.7,1081.9 C274.9,1084.9 293.3,1088.8 298.7,1081.9 C304.1,1075.0 300.4,1050.9 302.0,1040.5 C303.5,1030.2 305.9,1023.0 307.9,1019.8 C309.9,1016.6 311.3,1020.3 313.8,1021.3 C316.3,1022.3 319.7,1025.7 322.7,1025.7 C325.6,1025.7 328.6,1020.8 331.5,1021.3 C334.5,1021.8 337.9,1026.5 340.4,1028.7 C342.9,1030.9 343.9,1036.1 346.3,1034.6 C348.8,1033.1 352.1,1027.5 355.2,1019.8 C358.3,1012.2 362.2,994.2 364.8,988.8 C367.4,983.3 368.3,986.1 370.7,987.3 C373.2,988.5 377.1,993.2 379.6,996.2 C382.1,999.1 383.6,1001.1 385.5,1005.0 C387.5,1009.0 389.5,1015.4 391.4,1019.8 C393.4,1024.2 395.4,1031.1 397.4,1031.6 C399.3,1032.1 401.0,1029.7 403.3,1022.8 C405.5,1015.9 408.4,999.6 410.7,990.2 C412.9,980.9 414.4,971.5 416.6,966.6 C418.8,961.7 421.5,959.7 424.0,960.7 C426.4,961.7 429.4,964.1 431.4,972.5 C433.3,980.9 434.3,997.6 435.8,1010.9 C437.3,1024.2 439.1,1042.5 440.2,1052.3 C441.4,1062.2 442.0,1065.2 442.6,1070.1 C443.1,1075.0 443.0,1079.9 443.5,1081.9 C443.9,1083.9 444.6,1088.8 445.3,1081.9 C445.9,1075.0 446.5,1055.3 447.6,1040.5 C448.8,1025.7 450.3,1005.5 452.1,993.2 C453.8,980.9 456.0,970.5 458.0,966.6 C459.9,962.6 461.7,965.6 463.9,969.5 C466.1,973.5 469.3,983.6 471.3,990.2 C473.2,996.9 474.2,1010.0 475.7,1009.5 C477.2,1009.0 478.4,995.9 480.1,987.3 C481.9,978.7 483.6,966.1 486.1,957.7 C488.5,949.3 492.0,942.4 494.9,937.0 C497.9,931.6 500.3,927.7 503.8,925.2 C507.2,922.7 511.2,923.0 515.6,922.2 C520.1,921.5 526.5,922.7 530.4,920.8 C534.4,918.8 535.7,915.1 539.3,910.4 C542.9,905.7 548.3,897.6 551.9,892.7 C555.4,887.7 557.3,885.3 560.7,880.8 C564.2,876.4 568.6,871.5 572.6,866.1 C576.5,860.6 580.9,854.7 584.4,848.3 C587.8,841.9 590.3,835.0 593.3,827.6 C596.2,820.2 599.2,811.8 602.1,804.0 C605.1,796.1 608.1,788.2 611.0,780.3 C614.0,772.4 617.2,762.8 619.9,756.7 C622.6,750.5 625.1,744.8 627.3,743.3 C629.5,741.9 631.0,744.1 633.2,747.8 C635.4,751.5 637.9,758.6 640.6,765.5 C643.3,772.4 646.0,780.8 649.4,789.2 C652.9,797.6 657.3,807.4 661.3,815.8 C665.2,824.2 669.2,832.5 673.1,839.4 C677.0,846.3 681.0,851.3 684.9,857.2 C688.9,863.1 692.8,868.5 696.8,874.9 C700.7,881.3 705.1,889.7 708.6,895.6 C712.0,901.5 714.5,907.5 717.5,910.4 C720.4,913.4 723.4,912.4 726.3,913.4 C729.3,914.4 732.6,915.3 735.2,916.3 C737.8,917.3 739.3,916.8 741.9,919.3 C744.5,921.7 747.8,927.7 750.7,931.1 C753.7,934.6 756.7,937.0 759.6,940.0 C762.6,942.9 765.0,946.4 768.5,948.8 C771.9,951.3 776.4,953.3 780.3,954.8 C784.3,956.2 788.2,957.0 792.1,957.7 C796.1,958.5 800.5,957.7 804.0,959.2 C807.4,960.7 809.9,964.1 812.8,966.6 C815.8,969.1 818.7,972.5 821.7,974.0 C824.7,975.5 827.1,974.5 830.6,975.5 C834.0,976.4 838.5,978.7 842.4,979.9 C846.3,981.1 850.8,981.6 854.2,982.9 C857.7,984.1 860.1,985.1 863.1,987.3 C866.1,989.5 869.0,993.7 872.0,996.2 C874.9,998.6 877.9,1001.3 880.8,1002.1 C883.8,1002.8 886.8,1000.3 889.7,1000.6 C892.7,1000.8 895.1,1003.1 898.6,1003.5 C902.0,1004.0 906.5,1003.3 910.4,1003.5 C914.4,1003.8 918.9,1003.3 922.2,1005.0 C925.6,1006.8 927.8,1011.7 930.4,1013.9 C933.0,1016.1 934.6,1017.8 937.8,1018.3 C941.0,1018.8 945.7,1017.1 949.6,1016.9 C953.6,1016.6 958.0,1016.9 961.4,1016.9 C964.9,1016.9 967.4,1015.4 970.3,1016.9 C973.3,1018.3 976.2,1023.0 979.2,1025.7 C982.1,1028.4 985.1,1032.9 988.1,1033.1 C991.0,1033.4 993.0,1028.9 996.9,1027.2 C1000.9,1025.5 1007.3,1022.5 1011.7,1022.8 C1016.1,1023.0 1019.6,1027.0 1023.5,1028.7 C1027.5,1030.4 1031.4,1030.9 1035.4,1033.1 C1039.3,1035.3 1043.2,1040.8 1047.2,1042.0 C1051.1,1043.2 1055.1,1041.7 1059.0,1040.5 C1063.0,1039.3 1067.4,1036.1 1070.8,1034.6 C1074.3,1033.1 1076.8,1030.7 1079.7,1031.6 C1082.7,1032.6 1085.1,1037.1 1088.6,1040.5 C1092.0,1044.0 1097.0,1050.1 1100.4,1052.3 C1103.9,1054.6 1105.7,1055.6 1109.3,1053.8 C1112.9,1052.1 1117.8,1043.1 1121.9,1041.8 C1125.9,1040.5 1129.7,1044.5 1133.7,1046.2 C1137.6,1048.0 1141.6,1050.9 1145.5,1052.1 C1149.4,1053.4 1153.4,1053.6 1157.3,1053.6 C1161.3,1053.6 1165.2,1053.4 1169.1,1052.1 C1173.1,1050.9 1177.0,1047.7 1181.0,1046.2 C1184.9,1044.8 1189.3,1042.8 1192.8,1043.3 C1196.2,1043.8 1198.7,1046.7 1201.7,1049.2 C1204.6,1051.7 1207.1,1057.1 1210.5,1058.1 C1214.0,1059.0 1218.9,1056.6 1222.3,1055.1 C1225.8,1053.6 1227.8,1049.7 1231.2,1049.2 C1234.7,1048.7 1239.1,1050.9 1243.0,1052.1 C1247.0,1053.4 1250.9,1056.6 1254.8,1056.6 C1258.8,1056.6 1262.7,1052.6 1266.7,1052.1 C1270.6,1051.7 1274.5,1053.1 1278.5,1053.6 C1282.4,1054.1 1286.4,1055.4 1290.3,1055.1 C1294.2,1054.9 1298.2,1052.1 1302.1,1052.1 C1306.1,1052.1 1310.0,1053.1 1313.9,1055.1 C1317.9,1057.1 1321.8,1063.5 1325.8,1064.0 C1329.7,1064.5 1333.2,1060.0 1337.6,1058.1 C1342.0,1056.1 1349.9,1053.1 1352.4,1052.1" stroke="#1fd3e0" stroke-width="2.6"/>
<path d="M179.3,1081.9 C180.0,1078.0 181.5,1062.9 183.7,1058.3 C185.9,1053.6 189.6,1054.3 192.6,1053.8 C195.5,1053.3 198.5,1054.6 201.4,1055.3 C204.4,1056.0 207.4,1056.8 210.3,1058.3 C213.3,1059.7 216.7,1062.2 219.2,1064.2 C221.6,1066.1 223.5,1067.1 225.1,1070.1 C226.7,1073.0 226.7,1079.9 228.6,1081.9 C230.6,1083.9 234.3,1084.6 236.9,1081.9 C239.5,1079.2 242.1,1068.6 244.3,1065.6 C246.5,1062.7 248.5,1063.4 250.2,1064.2 C252.0,1064.9 253.5,1067.1 254.7,1070.1 C255.8,1073.0 248.3,1079.9 257.0,1081.9 C265.8,1083.9 297.8,1084.9 307.3,1081.9 C316.8,1078.9 311.5,1067.9 313.8,1064.2 C316.1,1060.5 318.7,1060.0 321.2,1059.7 C323.7,1059.5 326.4,1061.0 328.6,1062.7 C330.8,1064.4 332.9,1066.9 334.5,1070.1 C336.1,1073.3 337.1,1079.9 338.0,1081.9 C339.0,1083.9 339.0,1087.8 340.4,1081.9 C341.8,1076.0 344.1,1054.1 346.3,1046.4 C348.5,1038.8 351.6,1037.6 353.7,1036.1 C355.8,1034.6 356.6,1035.8 358.9,1037.6 C361.3,1039.3 364.8,1044.9 367.8,1046.4 C370.7,1047.9 374.2,1045.4 376.7,1046.4 C379.1,1047.4 380.8,1049.4 382.6,1052.3 C384.3,1055.3 385.8,1059.2 387.0,1064.2 C388.2,1069.1 388.7,1078.9 390.0,1081.9 C391.2,1084.9 392.7,1088.8 394.4,1081.9 C396.1,1075.0 398.3,1049.9 400.3,1040.5 C402.3,1031.1 404.3,1026.2 406.2,1025.7 C408.2,1025.2 410.2,1031.1 412.1,1037.6 C414.1,1044.0 416.6,1056.8 418.1,1064.2 C419.5,1071.6 419.5,1078.9 421.0,1081.9 C422.5,1084.9 425.2,1088.1 426.9,1081.9 C428.6,1075.7 429.9,1050.4 431.4,1044.9 C432.8,1039.5 434.6,1043.2 435.8,1049.4 C437.0,1055.5 433.6,1076.5 438.7,1081.9 C443.9,1087.3 461.4,1091.8 466.8,1081.9 C472.3,1072.0 469.8,1034.8 471.3,1022.8 C472.8,1010.7 474.2,1010.0 475.7,1009.5 C477.2,1009.0 478.7,1013.7 480.1,1019.8 C481.6,1026.0 483.1,1036.1 484.6,1046.4 C486.1,1056.8 487.5,1076.0 489.0,1081.9 C490.5,1087.8 492.0,1088.3 493.4,1081.9 C494.9,1075.5 495.7,1051.8 497.9,1043.5 C500.1,1035.1 503.8,1036.1 506.8,1031.6 C509.7,1027.2 512.7,1023.3 515.6,1016.9 C518.6,1010.4 522.0,997.4 524.5,993.2 C527.0,989.0 528.4,989.3 530.4,991.7 C532.4,994.2 534.4,1001.8 536.3,1008.0 C538.3,1014.1 539.6,1022.8 542.2,1028.7 C544.8,1034.6 548.8,1044.9 551.9,1043.5 C555.0,1042.0 557.8,1029.7 560.7,1019.8 C563.7,1010.0 566.4,993.7 569.6,984.3 C572.8,975.0 577.0,966.1 580.0,963.6 C582.9,961.2 584.9,963.6 587.4,969.5 C589.8,975.5 592.8,986.8 594.7,999.1 C596.7,1011.4 597.9,1031.6 599.2,1043.5 C600.4,1055.3 601.4,1063.7 602.1,1070.1 C602.9,1076.5 602.6,1079.9 603.6,1081.9 C604.6,1083.9 606.8,1090.8 608.1,1081.9 C609.3,1073.0 609.5,1046.4 611.0,1028.7 C612.5,1010.9 614.9,988.0 616.9,975.5 C619.0,962.9 621.5,953.3 623.4,953.3 C625.4,953.3 627.1,964.9 628.7,975.5 C630.4,986.1 632.0,1004.0 633.2,1016.9 C634.4,1029.7 635.2,1047.9 636.1,1052.3 C637.1,1056.8 637.9,1052.3 639.1,1043.5 C640.3,1034.6 641.8,1012.4 643.5,999.1 C645.3,985.8 647.5,973.5 649.4,963.6 C651.4,953.8 653.4,945.2 655.4,940.0 C657.3,934.8 659.3,932.6 661.3,932.6 C663.2,932.6 665.0,934.8 667.2,940.0 C669.4,945.2 672.1,957.7 674.6,963.6 C677.0,969.5 679.8,975.0 682.0,975.5 C684.2,976.0 685.4,972.5 687.9,966.6 C690.3,960.7 693.3,947.4 696.8,940.0 C700.2,932.6 704.6,926.4 708.6,922.2 C712.5,918.0 716.5,916.3 720.4,914.8 C724.4,913.4 728.7,914.8 732.2,913.4 C735.8,911.9 738.3,909.9 741.9,906.0 C745.4,902.0 749.8,895.9 753.7,889.7 C757.6,883.6 761.6,875.9 765.5,869.0 C769.5,862.1 773.7,854.2 777.4,848.3 C781.0,842.4 784.3,840.4 787.7,833.5 C791.2,826.6 794.4,816.3 798.1,806.9 C801.7,797.6 806.2,785.7 809.9,777.4 C813.6,769.0 817.5,760.8 820.2,756.7 C822.9,752.5 823.9,752.0 826.1,752.2 C828.4,752.5 830.8,754.4 833.5,758.1 C836.2,761.8 839.0,767.2 842.4,774.4 C845.9,781.5 850.3,792.1 854.2,801.0 C858.2,809.9 862.1,819.2 866.1,827.6 C870.0,836.0 873.9,844.9 877.9,851.3 C881.8,857.7 885.8,861.1 889.7,866.1 C893.7,871.0 897.6,875.9 901.5,880.8 C905.5,885.8 909.9,890.7 913.4,895.6 C916.8,900.6 919.4,906.0 922.2,910.4 C925.1,914.8 928.0,919.5 930.4,922.2 C932.7,924.9 933.6,926.9 936.3,926.7 C939.0,926.4 943.5,920.0 946.7,920.8 C949.9,921.5 952.1,927.4 955.5,931.1 C959.0,934.8 963.9,939.5 967.4,942.9 C970.8,946.4 973.3,948.4 976.2,951.8 C979.2,955.3 982.1,962.2 985.1,963.6 C988.1,965.1 990.8,961.9 994.0,960.7 C997.2,959.4 1001.4,956.2 1004.3,956.2 C1007.3,956.2 1009.0,958.5 1011.7,960.7 C1014.4,962.9 1017.6,966.6 1020.6,969.5 C1023.5,972.5 1026.0,976.0 1029.4,978.4 C1032.9,980.9 1037.3,983.3 1041.3,984.3 C1045.2,985.3 1049.2,984.3 1053.1,984.3 C1057.0,984.3 1061.0,983.3 1064.9,984.3 C1068.9,985.3 1072.8,987.8 1076.8,990.2 C1080.7,992.7 1084.6,996.2 1088.6,999.1 C1092.5,1002.1 1097.5,1005.8 1100.4,1008.0 C1103.4,1010.2 1103.9,1013.7 1106.3,1012.4 C1108.8,1011.2 1112.8,1002.8 1115.2,1000.6 C1117.5,998.3 1118.5,998.2 1120.4,999.0 C1122.2,999.7 1124.1,1001.9 1126.3,1004.9 C1128.5,1007.8 1131.0,1014.2 1133.7,1016.7 C1136.4,1019.2 1139.1,1019.4 1142.6,1019.6 C1146.0,1019.9 1150.4,1018.7 1154.4,1018.2 C1158.3,1017.7 1162.3,1016.4 1166.2,1016.7 C1170.1,1016.9 1174.1,1018.9 1178.0,1019.6 C1182.0,1020.4 1186.6,1020.1 1189.8,1021.1 C1193.0,1022.1 1194.8,1023.3 1197.2,1025.6 C1199.7,1027.8 1201.9,1033.7 1204.6,1034.4 C1207.3,1035.2 1210.3,1032.0 1213.5,1030.0 C1216.7,1028.0 1220.4,1022.4 1223.8,1022.6 C1227.3,1022.8 1230.5,1029.0 1234.2,1031.5 C1237.9,1033.9 1242.0,1034.7 1246.0,1037.4 C1249.9,1040.1 1254.4,1047.2 1257.8,1047.7 C1261.2,1048.2 1263.2,1042.8 1266.7,1040.3 C1270.1,1037.9 1274.5,1033.7 1278.5,1032.9 C1282.4,1032.2 1286.4,1034.7 1290.3,1035.9 C1294.2,1037.1 1298.2,1039.1 1302.1,1040.3 C1306.1,1041.6 1311.0,1041.8 1313.9,1043.3 C1316.9,1044.8 1317.4,1049.2 1319.9,1049.2 C1322.3,1049.2 1325.3,1045.3 1328.7,1043.3 C1332.2,1041.3 1336.6,1037.6 1340.5,1037.4 C1344.5,1037.1 1350.4,1041.1 1352.4,1041.8" stroke="#2cb834" stroke-width="2.6"/>
<path d="M210.3,1081.9 C211.0,1079.7 213.3,1068.6 214.7,1068.6 C216.2,1068.6 202.2,1079.7 219.2,1081.9 C236.2,1084.1 299.5,1084.5 316.8,1081.9 C334.0,1079.3 320.7,1066.5 322.7,1066.5 C324.6,1066.5 323.7,1079.3 328.6,1081.9 C333.5,1084.5 347.8,1084.1 352.2,1081.9 C356.7,1079.7 353.6,1071.1 355.2,1068.6 C356.8,1066.1 359.3,1068.4 361.9,1067.1 C364.5,1065.9 367.8,1062.7 370.7,1061.2 C373.7,1059.7 377.4,1058.3 379.6,1058.3 C381.8,1058.3 382.6,1059.2 384.0,1061.2 C385.5,1063.2 387.5,1066.6 388.5,1070.1 C389.5,1073.5 387.7,1079.9 390.0,1081.9 C392.2,1083.9 399.1,1084.1 401.8,1081.9 C404.5,1079.7 404.7,1068.6 406.2,1068.6 C407.7,1068.6 399.1,1079.7 410.7,1081.9 C422.2,1084.1 464.1,1085.8 475.7,1081.9 C487.3,1078.0 478.4,1063.9 480.1,1058.3 C481.9,1052.6 484.1,1047.9 486.1,1047.9 C488.0,1047.9 490.2,1052.6 492.0,1058.3 C493.7,1063.9 493.7,1078.0 496.4,1081.9 C499.1,1085.8 505.3,1085.8 508.2,1081.9 C511.2,1078.0 511.9,1064.2 514.1,1058.3 C516.4,1052.3 518.8,1048.9 521.5,1046.4 C524.2,1044.0 527.0,1046.9 530.4,1043.5 C533.9,1040.0 538.4,1021.8 542.2,1025.7 C546.1,1029.7 551.0,1057.8 553.3,1067.1 C555.7,1076.5 555.1,1079.4 556.3,1081.9 C557.5,1084.4 559.3,1086.8 560.7,1081.9 C562.2,1077.0 563.2,1060.2 565.2,1052.3 C567.1,1044.5 570.4,1036.3 572.6,1034.6 C574.8,1032.9 576.8,1040.0 578.5,1042.0 C580.2,1044.0 580.9,1049.1 582.9,1046.4 C584.9,1043.7 588.1,1031.4 590.3,1025.7 C592.5,1020.1 594.5,1013.9 596.2,1012.4 C597.9,1010.9 599.2,1012.7 600.7,1016.9 C602.1,1021.0 603.9,1028.7 605.1,1037.6 C606.3,1046.4 607.3,1062.7 608.1,1070.1 C608.8,1077.5 607.8,1079.9 609.5,1081.9 C611.3,1083.9 616.4,1086.6 618.4,1081.9 C620.4,1077.2 620.4,1053.8 621.4,1053.8 C622.3,1053.8 622.1,1077.2 624.3,1081.9 C626.5,1086.6 632.4,1088.8 634.7,1081.9 C636.9,1075.0 636.4,1051.6 637.6,1040.5 C638.9,1029.4 640.3,1017.8 642.1,1015.4 C643.8,1012.9 646.2,1020.1 648.0,1025.7 C649.7,1031.4 651.2,1044.7 652.4,1049.4 C653.6,1054.1 654.1,1055.8 655.4,1053.8 C656.6,1051.8 658.3,1043.7 659.8,1037.6 C661.3,1031.4 662.8,1019.8 664.2,1016.9 C665.7,1013.9 667.2,1015.9 668.7,1019.8 C670.1,1023.8 671.6,1036.8 673.1,1040.5 C674.6,1044.2 676.1,1044.5 677.5,1042.0 C679.0,1039.5 680.2,1033.9 682.0,1025.7 C683.7,1017.6 685.7,1001.1 687.9,993.2 C690.1,985.3 692.8,980.1 695.3,978.4 C697.7,976.7 700.0,979.4 702.7,982.9 C705.4,986.3 708.6,994.4 711.5,999.1 C714.5,1003.8 717.7,1007.7 720.4,1010.9 C723.1,1014.1 725.3,1020.3 727.8,1018.3 C730.3,1016.4 733.3,1005.8 735.2,999.1 C737.0,992.5 737.1,984.8 738.9,978.4 C740.8,972.0 743.8,964.4 746.3,960.7 C748.8,957.0 751.2,955.3 753.7,956.2 C756.2,957.2 758.6,961.9 761.1,966.6 C763.6,971.3 766.0,977.9 768.5,984.3 C770.9,990.7 773.7,1000.1 775.9,1005.0 C778.1,1010.0 779.8,1015.9 781.8,1013.9 C783.8,1011.9 785.7,1002.6 787.7,993.2 C789.7,983.8 791.4,968.6 793.6,957.7 C795.8,946.9 798.8,934.6 801.0,928.2 C803.2,921.7 804.9,918.8 806.9,919.3 C808.9,919.8 811.1,924.7 812.8,931.1 C814.6,937.5 815.9,948.4 817.3,957.7 C818.6,967.1 820.0,980.6 821.1,987.3 C822.2,993.9 822.8,999.6 823.8,997.6 C824.8,995.7 825.6,985.1 827.0,975.5 C828.4,965.9 830.2,949.3 832.1,940.0 C833.9,930.6 836.2,923.2 838.0,919.3 C839.7,915.3 840.7,915.3 842.4,916.3 C844.1,917.3 846.3,921.3 848.3,925.2 C850.3,929.1 852.5,936.5 854.2,940.0 C856.0,943.4 857.2,946.9 858.7,945.9 C860.1,944.9 861.4,940.5 863.1,934.1 C864.8,927.7 866.8,916.3 869.0,907.5 C871.2,898.6 873.9,888.7 876.4,880.8 C878.9,873.0 881.1,865.6 883.8,860.1 C886.5,854.7 889.7,852.3 892.7,848.3 C895.6,844.4 898.6,841.9 901.5,836.5 C904.5,831.1 907.5,823.2 910.4,815.8 C913.4,808.4 916.2,798.5 919.3,792.1 C922.4,785.7 926.3,781.8 928.9,777.4 C931.5,772.9 932.4,768.5 934.8,765.5 C937.3,762.6 940.7,759.6 943.7,759.6 C946.7,759.6 949.6,761.6 952.6,765.5 C955.5,769.5 958.5,776.9 961.4,783.3 C964.4,789.7 967.4,797.1 970.3,804.0 C973.3,810.9 976.2,816.8 979.2,824.7 C982.1,832.5 985.1,844.4 988.1,851.3 C991.0,858.2 993.5,861.6 996.9,866.1 C1000.4,870.5 1004.8,873.9 1008.7,877.9 C1012.7,881.8 1016.6,885.3 1020.6,889.7 C1024.5,894.1 1029.0,900.1 1032.4,904.5 C1035.9,908.9 1038.3,911.9 1041.3,916.3 C1044.2,920.8 1047.2,927.9 1050.1,931.1 C1053.1,934.3 1055.6,934.6 1059.0,935.5 C1062.5,936.5 1067.4,936.3 1070.8,937.0 C1074.3,937.8 1076.8,938.0 1079.7,940.0 C1082.7,941.9 1085.6,944.4 1088.6,948.8 C1091.5,953.3 1094.7,962.2 1097.5,966.6 C1100.2,971.0 1102.6,975.0 1104.8,975.5 C1107.1,976.0 1107.9,971.0 1110.8,969.5 C1113.6,968.0 1118.5,966.0 1121.9,966.5 C1125.2,966.9 1127.3,969.9 1130.7,972.4 C1134.2,974.8 1138.6,978.3 1142.6,981.2 C1146.5,984.2 1150.7,987.9 1154.4,990.1 C1158.1,992.3 1161.3,994.0 1164.7,994.5 C1168.2,995.0 1171.9,994.0 1175.1,993.0 C1178.3,992.1 1181.2,989.6 1183.9,988.6 C1186.6,987.6 1188.8,986.4 1191.3,987.1 C1193.8,987.9 1196.5,990.1 1198.7,993.0 C1200.9,996.0 1202.4,1001.4 1204.6,1004.9 C1206.8,1008.3 1209.0,1012.7 1212.0,1013.7 C1215.0,1014.7 1219.1,1011.5 1222.3,1010.8 C1225.5,1010.0 1227.8,1009.5 1231.2,1009.3 C1234.7,1009.1 1239.6,1008.6 1243.0,1009.3 C1246.5,1010.0 1248.9,1011.0 1251.9,1013.7 C1254.8,1016.4 1258.0,1022.6 1260.8,1025.6 C1263.5,1028.5 1265.2,1031.0 1268.1,1031.5 C1271.1,1032.0 1274.8,1030.2 1278.5,1028.5 C1282.2,1026.8 1286.4,1023.3 1290.3,1021.1 C1294.2,1018.9 1298.7,1014.5 1302.1,1015.2 C1305.6,1015.9 1308.0,1020.9 1311.0,1025.6 C1313.9,1030.2 1317.9,1039.8 1319.9,1043.3 C1321.8,1046.7 1320.8,1047.2 1322.8,1046.2 C1324.8,1045.3 1328.2,1040.1 1331.7,1037.4 C1335.1,1034.7 1340.0,1032.0 1343.5,1030.0 C1346.9,1028.0 1350.9,1026.3 1352.4,1025.6" stroke="#edb120" stroke-width="2.6"/>
<path d="M515.6,1081.9 C516.6,1079.4 519.3,1070.3 521.5,1067.1 C523.8,1063.9 526.5,1062.9 528.9,1062.7 C531.4,1062.4 534.1,1064.9 536.3,1065.6 C538.5,1066.4 539.2,1066.4 542.2,1067.1 C545.3,1067.9 550.8,1070.3 554.8,1070.1 C558.9,1069.8 563.2,1066.1 566.7,1065.6 C570.1,1065.2 572.6,1067.9 575.5,1067.1 C578.5,1066.4 581.9,1061.5 584.4,1061.2 C586.9,1061.0 588.3,1062.2 590.3,1065.6 C592.3,1069.1 586.4,1079.2 596.2,1081.9 C606.1,1084.6 639.6,1084.4 649.4,1081.9 C659.3,1079.4 652.9,1070.8 655.4,1067.1 C657.8,1063.4 661.8,1060.7 664.2,1059.7 C666.7,1058.7 668.2,1062.4 670.1,1061.2 C672.1,1060.0 673.6,1055.5 676.1,1052.3 C678.5,1049.1 682.0,1043.7 684.9,1042.0 C687.9,1040.3 690.3,1042.2 693.8,1042.0 C697.2,1041.7 702.2,1040.5 705.6,1040.5 C709.1,1040.5 711.5,1041.0 714.5,1042.0 C717.5,1043.0 720.4,1048.1 723.4,1046.4 C726.3,1044.7 729.2,1034.8 732.2,1031.6 C735.3,1028.4 738.8,1026.7 741.9,1027.2 C745.0,1027.7 747.8,1032.9 750.7,1034.6 C753.7,1036.3 756.4,1038.0 759.6,1037.6 C762.8,1037.1 766.8,1030.7 770.0,1031.6 C773.2,1032.6 776.1,1042.5 778.8,1043.5 C781.5,1044.5 783.5,1041.5 786.2,1037.6 C788.9,1033.6 792.6,1022.0 795.1,1019.8 C797.6,1017.6 799.0,1019.8 801.0,1024.2 C803.0,1028.7 805.3,1038.8 806.9,1046.4 C808.5,1054.1 809.7,1064.2 810.5,1070.1 C811.3,1076.0 806.1,1079.9 811.7,1081.9 C817.2,1083.9 837.5,1085.8 843.6,1081.9 C849.7,1078.0 846.5,1068.1 848.3,1058.3 C850.1,1048.4 851.8,1031.9 854.2,1022.8 C856.7,1013.7 860.1,1006.0 863.1,1003.5 C866.1,1001.1 869.0,1006.3 872.0,1008.0 C874.9,1009.7 877.4,1013.9 880.8,1013.9 C884.3,1013.9 889.0,1011.4 892.7,1008.0 C896.4,1004.5 899.6,997.4 903.0,993.2 C906.5,989.0 910.2,983.3 913.4,982.9 C916.6,982.4 919.4,977.7 922.2,990.2 C925.1,1002.8 928.8,1043.0 930.4,1058.3 C932.0,1073.5 930.1,1078.0 931.9,1081.9 C933.6,1085.8 938.5,1089.8 940.7,1081.9 C943.0,1074.0 943.7,1046.9 945.2,1034.6 C946.7,1022.3 947.9,1012.2 949.6,1008.0 C951.3,1003.8 953.6,1010.0 955.5,1009.5 C957.5,1009.0 959.0,1010.2 961.4,1005.0 C963.9,999.9 966.9,987.3 970.3,978.4 C973.8,969.5 978.2,959.7 982.1,951.8 C986.1,943.9 990.5,936.3 994.0,931.1 C997.4,925.9 999.9,922.7 1002.8,920.8 C1005.8,918.8 1008.3,921.0 1011.7,919.3 C1015.2,917.6 1020.1,913.9 1023.5,910.4 C1027.0,907.0 1029.0,903.5 1032.4,898.6 C1035.9,893.7 1040.3,885.3 1044.2,880.8 C1048.2,876.4 1052.1,876.4 1056.1,872.0 C1060.0,867.5 1064.4,860.1 1067.9,854.2 C1071.3,848.3 1073.3,843.4 1076.8,836.5 C1080.2,829.6 1084.6,821.2 1088.6,812.8 C1092.5,804.5 1096.5,794.6 1100.4,786.2 C1104.4,777.8 1109.2,768.5 1112.2,762.6 C1115.3,756.7 1116.8,750.7 1118.9,750.7 C1121.0,750.7 1122.9,757.6 1124.8,762.6 C1126.8,767.5 1128.3,773.9 1130.7,780.3 C1133.2,786.7 1136.6,794.6 1139.6,801.0 C1142.6,807.4 1145.5,813.3 1148.5,818.7 C1151.4,824.1 1154.4,828.1 1157.3,833.5 C1160.3,838.9 1163.2,845.3 1166.2,851.2 C1169.1,857.1 1172.1,864.0 1175.1,868.9 C1178.0,873.9 1181.0,877.8 1183.9,880.8 C1186.9,883.7 1189.8,883.7 1192.8,886.7 C1195.7,889.6 1198.7,894.5 1201.7,898.5 C1204.6,902.4 1207.6,907.1 1210.5,910.3 C1213.5,913.5 1216.4,916.0 1219.4,917.7 C1222.3,919.4 1225.3,917.9 1228.2,920.6 C1231.2,923.4 1234.2,930.7 1237.1,933.9 C1240.1,937.1 1242.5,937.9 1246.0,939.9 C1249.4,941.8 1253.9,943.8 1257.8,945.8 C1261.7,947.7 1265.7,949.7 1269.6,951.7 C1273.6,953.6 1277.5,955.6 1281.4,957.6 C1285.4,959.6 1289.3,962.0 1293.3,963.5 C1297.2,965.0 1301.1,964.5 1305.1,966.5 C1309.0,968.4 1313.0,972.4 1316.9,975.3 C1320.8,978.3 1324.8,982.5 1328.7,984.2 C1332.7,985.9 1336.6,984.7 1340.5,985.7 C1344.5,986.6 1350.4,989.4 1352.4,990.1" stroke="#e8000a" stroke-width="2.6"/>
<path d="M166.0,1055.3 C167.4,1054.8 172.4,1051.8 174.8,1052.3 C177.3,1052.8 178.8,1055.3 180.7,1058.3 C182.7,1061.2 185.1,1066.1 186.7,1070.1 C188.2,1074.0 187.1,1079.9 190.2,1081.9 C193.3,1083.9 201.9,1084.4 205.3,1081.9 C208.6,1079.4 208.0,1070.3 210.3,1067.1 C212.6,1063.9 216.2,1062.7 219.2,1062.7 C222.1,1062.7 225.4,1063.9 228.1,1067.1 C230.7,1070.3 158.0,1079.4 234.9,1081.9 C311.7,1084.4 612.9,1084.4 689.4,1081.9 C765.9,1079.4 691.6,1071.1 693.8,1067.1 C696.0,1063.2 699.2,1060.7 702.7,1058.3 C706.1,1055.8 711.5,1052.8 714.5,1052.3 C717.5,1051.8 717.9,1052.8 720.4,1055.3 C722.9,1057.8 725.2,1066.1 729.3,1067.1 C733.3,1068.1 740.3,1063.9 744.8,1061.2 C749.4,1058.5 753.2,1053.1 756.7,1050.9 C760.1,1048.6 762.6,1049.6 765.5,1047.9 C768.5,1046.2 771.9,1040.8 774.4,1040.5 C776.9,1040.3 778.6,1041.5 780.3,1046.4 C782.0,1051.4 783.7,1064.2 784.7,1070.1 C785.8,1076.0 778.2,1079.9 786.5,1081.9 C794.8,1083.9 825.9,1085.8 834.7,1081.9 C843.5,1078.0 837.4,1062.9 839.4,1058.3 C841.5,1053.6 844.4,1053.8 846.8,1053.8 C849.3,1053.8 852.0,1058.5 854.2,1058.3 C856.4,1058.0 858.2,1055.8 860.1,1052.3 C862.1,1048.9 863.1,1042.0 866.1,1037.6 C869.0,1033.1 874.4,1026.7 877.9,1025.7 C881.3,1024.7 883.8,1028.2 886.8,1031.6 C889.7,1035.1 892.9,1041.0 895.6,1046.4 C898.3,1051.8 901.0,1063.7 903.0,1064.2 C905.0,1064.7 905.7,1053.8 907.5,1049.4 C909.2,1044.9 911.4,1038.0 913.4,1037.6 C915.3,1037.1 917.6,1041.5 919.3,1046.4 C921.0,1051.4 922.7,1061.2 923.7,1067.1 C924.8,1073.0 919.3,1079.4 925.5,1081.9 C931.7,1084.4 953.9,1088.8 960.8,1081.9 C967.8,1075.0 965.0,1052.8 967.4,1040.5 C969.7,1028.2 972.3,1016.4 974.7,1008.0 C977.2,999.6 979.4,992.0 982.1,990.2 C984.8,988.5 987.8,995.7 991.0,997.6 C994.2,999.6 997.9,998.9 1001.4,1002.1 C1004.8,1005.3 1008.5,1017.3 1011.7,1016.9 C1014.9,1016.4 1017.6,1007.0 1020.6,999.1 C1023.5,991.2 1026.2,976.9 1029.4,969.5 C1032.6,962.2 1036.8,956.2 1039.8,954.8 C1042.8,953.3 1044.7,956.7 1047.2,960.7 C1049.7,964.6 1052.1,971.0 1054.6,978.4 C1057.0,985.8 1060.0,998.4 1062.0,1005.0 C1063.9,1011.7 1064.9,1018.3 1066.4,1018.3 C1067.9,1018.3 1069.1,1013.2 1070.8,1005.0 C1072.6,996.9 1074.5,981.4 1076.8,969.5 C1079.0,957.7 1081.4,942.4 1084.1,934.1 C1086.9,925.7 1090.3,919.3 1093.0,919.3 C1095.7,919.3 1098.2,925.7 1100.4,934.1 C1102.6,942.4 1104.6,958.7 1106.3,969.5 C1108.0,980.4 1109.5,995.2 1110.8,999.1 C1112.0,1003.1 1112.1,1005.0 1113.7,993.2 C1115.3,981.4 1118.4,940.4 1120.4,928.0 C1122.3,915.7 1123.7,919.2 1125.4,919.2 C1127.1,919.2 1128.9,923.6 1130.7,928.0 C1132.6,932.5 1134.7,941.3 1136.6,945.8 C1138.6,950.2 1140.6,955.6 1142.6,954.6 C1144.5,953.6 1146.5,946.8 1148.5,939.9 C1150.4,933.0 1152.4,921.1 1154.4,913.3 C1156.3,905.4 1157.8,899.5 1160.3,892.6 C1162.7,885.7 1166.2,877.3 1169.1,871.9 C1172.1,866.5 1175.1,864.0 1178.0,860.1 C1181.0,856.1 1183.9,852.2 1186.9,848.2 C1189.8,844.3 1192.8,840.9 1195.7,836.4 C1198.7,832.0 1201.7,827.6 1204.6,821.7 C1207.6,815.7 1210.8,808.4 1213.5,801.0 C1216.2,793.6 1218.6,783.7 1220.9,777.3 C1223.1,770.9 1225.1,765.6 1226.8,762.6 C1228.4,759.5 1228.9,759.0 1230.6,759.0 C1232.3,759.0 1234.6,761.2 1237.1,762.6 C1239.7,763.9 1243.5,765.0 1246.0,767.0 C1248.4,769.0 1249.4,770.2 1251.9,774.4 C1254.4,778.6 1257.3,784.7 1260.8,792.1 C1264.2,799.5 1268.6,809.3 1272.6,818.7 C1276.5,828.1 1280.9,840.9 1284.4,848.2 C1287.8,855.6 1290.3,859.6 1293.3,863.0 C1296.2,866.5 1299.2,866.5 1302.1,868.9 C1305.1,871.4 1308.0,873.9 1311.0,877.8 C1313.9,881.7 1316.9,887.2 1319.9,892.6 C1322.8,898.0 1325.8,905.9 1328.7,910.3 C1331.7,914.7 1333.6,916.7 1337.6,919.2 C1341.5,921.6 1349.9,924.1 1352.4,925.1" stroke="#b0000e" stroke-width="2.6"/>
</g>
</svg>
</body></html>
